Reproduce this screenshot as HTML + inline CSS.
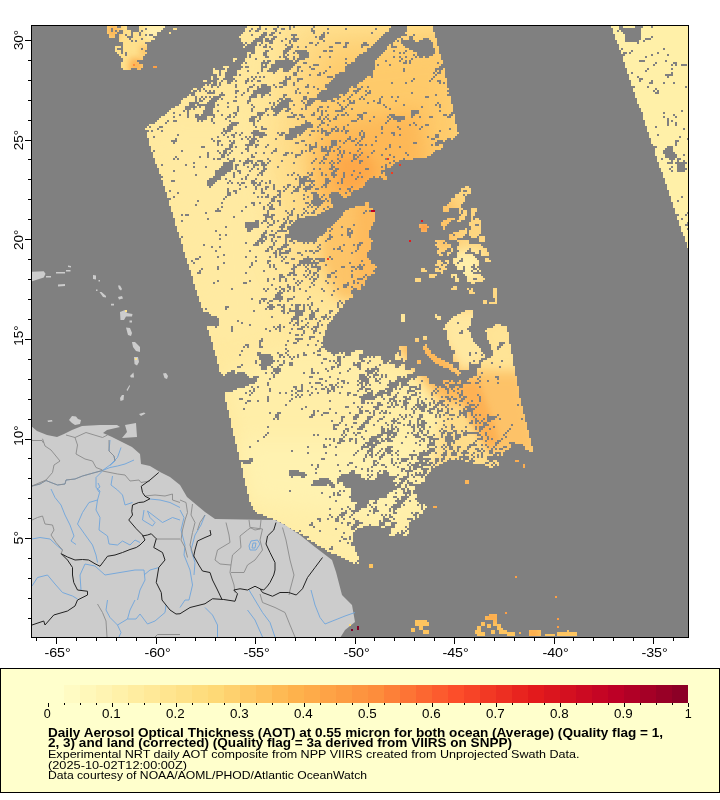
<!DOCTYPE html>
<html><head><meta charset="utf-8"><title>AOT map</title>
<style>html,body{margin:0;padding:0;background:#fff;}body{width:720px;height:800px;overflow:hidden;font-family:"Liberation Sans",sans-serif;}</style></head>
<body>
<svg width="720" height="800" viewBox="0 0 720 800" style="display:block">
<defs>
<clipPath id="cm"><rect x="32" y="26" width="656" height="611"/></clipPath>
<filter id="b6" x="-50%" y="-50%" width="200%" height="200%"><feGaussianBlur stdDeviation="6"/></filter>
<filter id="b10" x="-50%" y="-50%" width="200%" height="200%"><feGaussianBlur stdDeviation="10"/></filter>
<filter id="b16" x="-50%" y="-50%" width="200%" height="200%"><feGaussianBlur stdDeviation="16"/></filter>
<filter id="b3" x="-50%" y="-50%" width="200%" height="200%"><feGaussianBlur stdDeviation="3"/></filter>
</defs>
<rect width="720" height="800" fill="#fff"/>
<g clip-path="url(#cm)">
<rect x="31" y="25" width="658" height="613" fill="#ffe89c"/>
<polygon points="140,120 260,120 280,350 200,350" fill="#ffeaa2" filter="url(#b16)"/>
<polygon points="290,20 470,20 470,170 400,260 330,300 290,260 270,150" fill="#fedc88" filter="url(#b16)"/>
<polygon points="320,50 465,30 470,160 390,220 330,210 305,140" fill="#feca6a" filter="url(#b16)"/>
<polygon points="324,128 420,108 428,165 390,200 335,215 314,200 314,160" fill="#fdb856" filter="url(#b10)"/>
<polygon points="335,158 365,150 378,172 360,192 338,190" fill="#fda848" filter="url(#b6)"/>
<polygon points="322,205 376,205 376,300 338,300 322,260" fill="#fdc468" filter="url(#b6)"/>
<polygon points="355,200 385,200 385,300 358,300" fill="#fdba5c" filter="url(#b6)"/>
<polygon points="222,370 300,345 365,350 450,402 440,545 360,575 250,520" fill="#ffeea8" filter="url(#b10)"/>
<polygon points="240,440 420,440 400,520 250,500" fill="#fff2b0" filter="url(#b10)"/>
<polygon points="440,300 530,300 550,470 430,480 445,400" fill="#fedc8a" filter="url(#b6)"/>
<polygon points="392,338 470,345 472,405 440,402" fill="#fdb85a" filter="url(#b6)"/>
<polygon points="441,305 482,305 488,360 462,375 444,345" fill="#ffe8a0" filter="url(#b6)"/>
<polygon points="484,322 512,322 520,372 488,372" fill="#ffe496" filter="url(#b6)"/>
<polygon points="470,372 522,372 540,455 495,455 462,400" fill="#fdc268" filter="url(#b6)"/>
<polygon points="458,385 478,380 500,440 490,452 470,420" fill="#fdb152" filter="url(#b3)"/>
<polygon points="595,15 705,15 705,300" fill="#fff0a8" filter="url(#b3)"/>
<polygon points="100,15 180,15 180,80 100,80" fill="#fee08c" filter="url(#b3)"/>
<polygon points="145,22 170,22 165,36 145,40" fill="#fff0b0" filter="url(#b3)"/>
<polygon points="105,24 121,24 118,40 107,38" fill="#fdb858" filter="url(#b3)"/>
<polygon points="130,58 144,58 144,72 128,72" fill="#fdb557" filter="url(#b3)"/>
<polygon points="140,46 150,46 150,56 140,56" fill="#fdc468" filter="url(#b3)"/>
<polygon points="410,180 500,180 500,310 410,310" fill="#fed680" filter="url(#b6)"/>
<polygon points="436,200 456,200 456,250 436,250" fill="#fdc266" filter="url(#b6)"/>
<polygon points="418,222 430,222 430,233 418,233" fill="#fd9a42" filter="url(#b3)"/>
<polygon points="452,250 482,250 482,282 452,282" fill="#fff0aa" filter="url(#b6)"/>
<polygon points="405,610 590,610 590,640 405,640" fill="#fec45f" filter="url(#b3)"/>
<polygon points="528,628 538,628 538,640 528,640" fill="#fdab4c" filter="url(#b3)"/>
<polygon points="485,612 500,612 500,622 485,622" fill="#fdab4c" filter="url(#b3)"/>
<path transform="translate(31 26) scale(2)" d="M0 0h38v4h-38zM43 0h2v1h-2zM48 0h6v2h-6zM67 0h41v1h-41zM114 0h1v1h-1zM123 0h1v1h-1zM129 0h1v2h-1zM131 0h1v1h-1zM141 0h1v1h-1zM180 0h8v1h-8zM201 0h89v1h-89zM294 0h2v1h-2zM302 0h4v1h-4zM310 0h1v1h-1zM40 1h1v2h-1zM57 1h1v1h-1zM66 1h5v1h-5zM73 1h34v1h-34zM110 1h1v1h-1zM113 1h2v1h-2zM117 1h1v1h-1zM121 1h2v1h-2zM125 1h2v1h-2zM140 1h1v1h-1zM148 1h1v1h-1zM157 1h1v1h-1zM172 1h1v1h-1zM179 1h9v2h-9zM201 1h90v2h-90zM294 1h11v1h-11zM42 2h1v1h-1zM44 2h2v1h-2zM50 2h4v1h-4zM55 2h1v1h-1zM65 2h42v1h-42zM109 2h1v1h-1zM112 2h2v1h-2zM122 2h1v1h-1zM140 2h2v1h-2zM293 2h1v1h-1zM295 2h10v1h-10zM43 3h3v1h-3zM50 3h1v2h-1zM54 3h1v2h-1zM63 3h6v1h-6zM70 3h36v1h-36zM116 3h2v1h-2zM120 3h2v1h-2zM124 3h1v1h-1zM141 3h1v1h-1zM146 3h1v1h-1zM148 3h1v1h-1zM170 3h1v1h-1zM177 3h10v1h-10zM202 3h89v1h-89zM296 3h9v1h-9zM0 4h39v2h-39zM42 4h2v2h-2zM47 4h1v1h-1zM57 4h1v1h-1zM59 4h2v1h-2zM63 4h42v1h-42zM110 4h1v1h-1zM115 4h3v1h-3zM119 4h2v1h-2zM130 4h3v1h-3zM145 4h2v1h-2zM176 4h12v1h-12zM191 4h1v1h-1zM202 4h90v2h-90zM297 4h8v3h-8zM48 5h3v1h-3zM61 5h43v1h-43zM114 5h3v1h-3zM121 5h2v1h-2zM131 5h1v1h-1zM142 5h1v1h-1zM144 5h3v1h-3zM175 5h10v1h-10zM189 5h2v2h-2zM310 5h1v1h-1zM0 6h44v2h-44zM49 6h1v1h-1zM55 6h1v1h-1zM62 6h43v1h-43zM112 6h4v1h-4zM117 6h2v1h-2zM120 6h2v1h-2zM127 6h1v1h-1zM130 6h4v1h-4zM144 6h2v1h-2zM174 6h9v1h-9zM185 6h1v1h-1zM196 6h3v1h-3zM203 6h89v1h-89zM307 6h3v1h-3zM50 7h1v1h-1zM52 7h1v1h-1zM60 7h45v1h-45zM111 7h5v1h-5zM117 7h4v1h-4zM125 7h1v1h-1zM129 7h1v2h-1zM131 7h2v1h-2zM146 7h1v1h-1zM173 7h9v1h-9zM183 7h1v1h-1zM185 7h7v1h-7zM194 7h6v1h-6zM203 7h90v2h-90zM297 7h7v1h-7zM306 7h1v1h-1zM0 8h46v2h-46zM57 8h49v1h-49zM107 8h1v1h-1zM110 8h3v1h-3zM115 8h1v1h-1zM119 8h2v1h-2zM139 8h2v1h-2zM143 8h1v1h-1zM152 8h3v1h-3zM157 8h2v1h-2zM166 8h2v1h-2zM172 8h9v1h-9zM185 8h16v1h-16zM303 8h1v1h-1zM58 9h49v1h-49zM108 9h5v1h-5zM114 9h1v1h-1zM117 9h1v1h-1zM127 9h1v1h-1zM130 9h1v1h-1zM142 9h1v1h-1zM157 9h1v1h-1zM165 9h4v1h-4zM171 9h8v1h-8zM180 9h1v1h-1zM186 9h15v1h-15zM203 9h91v1h-91zM0 10h42v3h-42zM45 10h1v1h-1zM58 10h48v1h-48zM107 10h5v1h-5zM116 10h2v1h-2zM119 10h1v1h-1zM128 10h3v1h-3zM133 10h1v1h-1zM137 10h1v1h-1zM149 10h2v1h-2zM156 10h2v1h-2zM165 10h1v1h-1zM170 10h8v1h-8zM180 10h3v1h-3zM187 10h14v1h-14zM204 10h90v2h-90zM43 11h3v1h-3zM55 11h1v1h-1zM58 11h54v1h-54zM120 11h1v1h-1zM127 11h3v1h-3zM168 11h10v1h-10zM189 11h13v1h-13zM295 11h1v1h-1zM316 11h1v1h-1zM45 12h1v2h-1zM57 12h55v1h-55zM117 12h2v1h-2zM126 12h3v1h-3zM132 12h6v1h-6zM146 12h2v1h-2zM149 12h2v1h-2zM168 12h9v1h-9zM181 12h1v1h-1zM187 12h1v1h-1zM191 12h11v1h-11zM204 12h91v2h-91zM300 12h1v1h-1zM0 13h43v1h-43zM47 13h1v2h-1zM58 13h50v1h-50zM110 13h2v1h-2zM116 13h2v2h-2zM126 13h2v1h-2zM131 13h1v1h-1zM133 13h6v1h-6zM166 13h10v1h-10zM184 13h1v1h-1zM186 13h1v1h-1zM193 13h9v1h-9zM296 13h2v1h-2zM299 13h1v1h-1zM313 13h1v1h-1zM0 14h44v1h-44zM57 14h51v1h-51zM109 14h1v2h-1zM126 14h1v1h-1zM128 14h1v1h-1zM134 14h5v2h-5zM164 14h11v1h-11zM191 14h1v1h-1zM193 14h8v1h-8zM205 14h92v1h-92zM310 14h1v1h-1zM318 14h1v1h-1zM0 15h45v1h-45zM56 15h52v1h-52zM117 15h2v1h-2zM124 15h1v1h-1zM126 15h2v1h-2zM131 15h1v2h-1zM144 15h1v1h-1zM149 15h1v1h-1zM163 15h11v1h-11zM181 15h1v1h-1zM184 15h1v1h-1zM187 15h1v1h-1zM192 15h1v1h-1zM194 15h2v1h-2zM197 15h2v1h-2zM205 15h91v2h-91zM307 15h1v1h-1zM0 16h46v2h-46zM56 16h45v1h-45zM103 16h4v1h-4zM112 16h1v1h-1zM127 16h2v1h-2zM133 16h4v1h-4zM157 16h1v1h-1zM162 16h11v1h-11zM185 16h1v1h-1zM190 16h1v1h-1zM53 17h48v1h-48zM102 17h5v1h-5zM116 17h1v1h-1zM118 17h2v1h-2zM122 17h9v1h-9zM132 17h2v1h-2zM162 17h10v1h-10zM177 17h1v1h-1zM184 17h1v1h-1zM187 17h1v1h-1zM189 17h1v2h-1zM206 17h90v1h-90zM304 17h3v1h-3zM317 17h1v1h-1zM0 18h45v3h-45zM54 18h52v1h-52zM107 18h1v1h-1zM115 18h4v1h-4zM122 18h11v1h-11zM136 18h2v1h-2zM157 18h1v1h-1zM160 18h12v1h-12zM186 18h2v1h-2zM203 18h1v1h-1zM206 18h91v1h-91zM312 18h1v1h-1zM321 18h2v1h-2zM56 19h49v1h-49zM115 19h1v1h-1zM117 19h1v1h-1zM120 19h12v1h-12zM141 19h3v1h-3zM158 19h14v1h-14zM173 19h1v1h-1zM179 19h1v1h-1zM205 19h92v1h-92zM311 19h1v1h-1zM320 19h1v1h-1zM322 19h1v1h-1zM325 19h3v1h-3zM56 20h5v1h-5zM62 20h34v1h-34zM99 20h7v1h-7zM107 20h2v1h-2zM115 20h3v1h-3zM120 20h11v1h-11zM133 20h2v1h-2zM139 20h1v1h-1zM149 20h1v1h-1zM157 20h15v2h-15zM204 20h93v1h-93zM0 21h46v1h-46zM50 21h3v1h-3zM55 21h36v1h-36zM92 21h5v1h-5zM98 21h7v1h-7zM115 21h1v2h-1zM119 21h5v1h-5zM126 21h4v1h-4zM133 21h1v2h-1zM140 21h2v1h-2zM186 21h1v2h-1zM202 21h4v1h-4zM207 21h91v3h-91zM308 21h1v1h-1zM320 21h1v1h-1zM0 22h91v2h-91zM94 22h1v3h-1zM98 22h5v1h-5zM108 22h1v1h-1zM118 22h5v1h-5zM126 22h3v1h-3zM135 22h1v1h-1zM147 22h1v1h-1zM157 22h14v1h-14zM202 22h1v1h-1zM204 22h1v1h-1zM307 22h1v1h-1zM97 23h6v2h-6zM113 23h1v1h-1zM121 23h1v1h-1zM131 23h2v2h-2zM144 23h1v1h-1zM146 23h1v1h-1zM154 23h17v1h-17zM201 23h1v1h-1zM203 23h2v1h-2zM300 23h1v1h-1zM320 23h1v1h-1zM0 24h93v1h-93zM104 24h1v1h-1zM139 24h1v1h-1zM143 24h2v1h-2zM152 24h19v1h-19zM202 24h1v1h-1zM207 24h92v2h-92zM317 24h4v1h-4zM0 25h90v2h-90zM91 25h2v1h-2zM97 25h4v1h-4zM110 25h1v1h-1zM112 25h1v1h-1zM114 25h1v1h-1zM116 25h1v1h-1zM127 25h1v1h-1zM129 25h1v1h-1zM148 25h3v1h-3zM152 25h16v1h-16zM170 25h1v1h-1zM201 25h1v1h-1zM303 25h1v1h-1zM318 25h1v1h-1zM91 26h3v1h-3zM96 26h6v1h-6zM108 26h1v1h-1zM111 26h1v1h-1zM127 26h3v1h-3zM133 26h3v1h-3zM151 26h16v1h-16zM191 26h1v1h-1zM200 26h1v1h-1zM208 26h91v1h-91zM304 26h2v1h-2zM0 27h86v1h-86zM88 27h5v1h-5zM95 27h1v1h-1zM98 27h3v1h-3zM102 27h1v1h-1zM107 27h2v1h-2zM110 27h1v1h-1zM113 27h2v1h-2zM126 27h2v1h-2zM133 27h1v1h-1zM150 27h16v1h-16zM190 27h1v1h-1zM199 27h1v1h-1zM203 27h2v1h-2zM208 27h92v3h-92zM304 27h1v1h-1zM310 27h1v1h-1zM0 28h90v1h-90zM91 28h2v1h-2zM94 28h1v2h-1zM98 28h2v1h-2zM107 28h1v1h-1zM124 28h4v1h-4zM131 28h1v2h-1zM149 28h15v1h-15zM180 28h1v1h-1zM187 28h1v1h-1zM204 28h1v1h-1zM206 28h1v1h-1zM309 28h2v1h-2zM316 28h1v1h-1zM321 28h1v1h-1zM0 29h87v1h-87zM88 29h1v1h-1zM90 29h3v1h-3zM102 29h1v2h-1zM111 29h1v1h-1zM115 29h3v1h-3zM121 29h1v1h-1zM126 29h2v1h-2zM138 29h1v1h-1zM147 29h16v1h-16zM0 30h86v1h-86zM90 30h1v1h-1zM93 30h1v1h-1zM109 30h2v1h-2zM113 30h1v1h-1zM115 30h5v1h-5zM122 30h1v1h-1zM124 30h2v1h-2zM137 30h2v1h-2zM141 30h1v1h-1zM147 30h13v1h-13zM161 30h2v1h-2zM165 30h1v1h-1zM168 30h1v1h-1zM208 30h94v1h-94zM308 30h1v1h-1zM327 30h1v1h-1zM0 31h81v1h-81zM83 31h2v1h-2zM86 31h1v1h-1zM108 31h1v2h-1zM113 31h7v1h-7zM133 31h1v1h-1zM143 31h1v1h-1zM148 31h11v1h-11zM163 31h2v1h-2zM209 31h92v1h-92zM312 31h1v1h-1zM0 32h80v1h-80zM81 32h2v1h-2zM84 32h1v1h-1zM87 32h1v1h-1zM89 32h1v1h-1zM91 32h1v1h-1zM102 32h2v1h-2zM111 32h9v1h-9zM132 32h1v2h-1zM145 32h14v1h-14zM161 32h3v1h-3zM167 32h1v1h-1zM169 32h1v1h-1zM208 32h93v1h-93zM311 32h1v1h-1zM313 32h1v1h-1zM0 33h82v1h-82zM88 33h4v1h-4zM95 33h1v1h-1zM102 33h1v1h-1zM106 33h1v1h-1zM111 33h8v1h-8zM134 33h1v1h-1zM138 33h1v1h-1zM144 33h14v1h-14zM162 33h1v1h-1zM168 33h2v1h-2zM190 33h1v1h-1zM209 33h93v1h-93zM312 33h2v1h-2zM0 34h79v1h-79zM80 34h2v1h-2zM94 34h3v1h-3zM105 34h1v1h-1zM110 34h3v1h-3zM115 34h2v1h-2zM119 34h1v1h-1zM126 34h2v1h-2zM143 34h11v1h-11zM156 34h1v1h-1zM160 34h1v1h-1zM167 34h1v1h-1zM202 34h1v1h-1zM208 34h94v1h-94zM0 35h78v1h-78zM82 35h1v3h-1zM85 35h1v1h-1zM87 35h1v1h-1zM89 35h1v1h-1zM91 35h4v1h-4zM102 35h1v1h-1zM109 35h4v1h-4zM115 35h1v1h-1zM126 35h1v1h-1zM136 35h2v2h-2zM143 35h12v1h-12zM159 35h1v1h-1zM165 35h1v1h-1zM175 35h1v1h-1zM180 35h1v1h-1zM183 35h1v1h-1zM197 35h2v1h-2zM210 35h92v1h-92zM0 36h76v1h-76zM84 36h1v1h-1zM86 36h1v1h-1zM90 36h4v1h-4zM95 36h1v1h-1zM109 36h1v1h-1zM124 36h2v1h-2zM127 36h3v1h-3zM139 36h12v1h-12zM153 36h1v1h-1zM158 36h1v1h-1zM164 36h1v1h-1zM166 36h1v1h-1zM174 36h1v2h-1zM210 36h93v3h-93zM0 37h75v2h-75zM84 37h2v1h-2zM89 37h4v1h-4zM101 37h2v1h-2zM108 37h2v1h-2zM123 37h1v1h-1zM125 37h6v1h-6zM135 37h1v1h-1zM138 37h4v1h-4zM145 37h3v1h-3zM150 37h2v1h-2zM156 37h1v1h-1zM159 37h1v1h-1zM161 37h1v1h-1zM171 37h1v1h-1zM182 37h1v1h-1zM79 38h5v1h-5zM88 38h4v1h-4zM98 38h1v1h-1zM108 38h1v1h-1zM119 38h1v1h-1zM121 38h1v2h-1zM124 38h5v1h-5zM136 38h1v1h-1zM138 38h3v1h-3zM153 38h1v1h-1zM159 38h3v1h-3zM168 38h1v1h-1zM173 38h2v1h-2zM203 38h1v1h-1zM0 39h74v1h-74zM79 39h3v1h-3zM83 39h9v1h-9zM93 39h1v1h-1zM110 39h1v1h-1zM123 39h6v1h-6zM131 39h1v1h-1zM137 39h3v1h-3zM154 39h1v1h-1zM158 39h1v1h-1zM176 39h1v1h-1zM186 39h1v1h-1zM202 39h1v1h-1zM204 39h1v2h-1zM211 39h93v2h-93zM0 40h72v1h-72zM77 40h6v1h-6zM84 40h1v1h-1zM87 40h5v1h-5zM98 40h1v1h-1zM103 40h1v3h-1zM111 40h1v1h-1zM120 40h1v1h-1zM122 40h7v1h-7zM137 40h1v2h-1zM144 40h2v1h-2zM148 40h1v1h-1zM155 40h1v1h-1zM157 40h1v1h-1zM177 40h1v1h-1zM195 40h1v1h-1zM0 41h70v1h-70zM77 41h3v1h-3zM81 41h1v1h-1zM87 41h4v1h-4zM110 41h1v2h-1zM117 41h2v1h-2zM120 41h6v1h-6zM128 41h2v1h-2zM135 41h1v1h-1zM143 41h1v2h-1zM155 41h2v1h-2zM160 41h1v1h-1zM179 41h1v1h-1zM211 41h94v2h-94zM0 42h69v1h-69zM76 42h1v1h-1zM78 42h1v4h-1zM86 42h5v2h-5zM93 42h1v1h-1zM117 42h1v1h-1zM121 42h4v1h-4zM127 42h2v1h-2zM145 42h1v3h-1zM147 42h1v1h-1zM152 42h4v1h-4zM190 42h4v2h-4zM204 42h1v1h-1zM325 42h1v1h-1zM0 43h68v1h-68zM71 43h1v1h-1zM101 43h2v1h-2zM113 43h4v1h-4zM122 43h2v1h-2zM130 43h1v1h-1zM141 43h1v1h-1zM157 43h1v1h-1zM166 43h2v1h-2zM210 43h96v1h-96zM316 43h1v1h-1zM0 44h67v1h-67zM74 44h1v1h-1zM82 44h2v1h-2zM85 44h7v1h-7zM95 44h1v1h-1zM99 44h1v1h-1zM102 44h1v1h-1zM113 44h3v1h-3zM118 44h1v1h-1zM121 44h2v1h-2zM131 44h2v1h-2zM134 44h2v1h-2zM140 44h2v1h-2zM148 44h1v1h-1zM153 44h1v1h-1zM155 44h2v1h-2zM158 44h1v1h-1zM163 44h3v1h-3zM179 44h3v1h-3zM190 44h2v1h-2zM206 44h2v1h-2zM209 44h2v1h-2zM212 44h94v3h-94zM321 44h1v1h-1zM0 45h65v1h-65zM71 45h1v1h-1zM82 45h6v1h-6zM91 45h1v1h-1zM98 45h2v1h-2zM101 45h1v1h-1zM110 45h3v1h-3zM114 45h1v2h-1zM128 45h4v1h-4zM135 45h2v1h-2zM144 45h1v1h-1zM147 45h1v1h-1zM152 45h1v1h-1zM164 45h2v1h-2zM171 45h1v1h-1zM178 45h1v1h-1zM180 45h7v1h-7zM190 45h1v1h-1zM194 45h1v1h-1zM199 45h2v1h-2zM208 45h2v1h-2zM316 45h1v1h-1zM322 45h1v1h-1zM0 46h64v1h-64zM83 46h5v1h-5zM90 46h1v2h-1zM97 46h1v1h-1zM109 46h3v2h-3zM133 46h1v1h-1zM143 46h2v1h-2zM146 46h1v1h-1zM148 46h1v1h-1zM151 46h2v1h-2zM163 46h1v1h-1zM165 46h1v1h-1zM179 46h1v1h-1zM181 46h6v1h-6zM318 46h1v4h-1zM0 47h63v1h-63zM68 47h1v1h-1zM71 47h2v1h-2zM83 47h1v1h-1zM85 47h1v1h-1zM99 47h1v1h-1zM113 47h1v1h-1zM137 47h1v1h-1zM145 47h1v1h-1zM149 47h1v1h-1zM160 47h3v1h-3zM169 47h1v1h-1zM178 47h1v1h-1zM183 47h2v1h-2zM212 47h95v2h-95zM320 47h1v1h-1zM0 48h62v1h-62zM67 48h1v1h-1zM91 48h1v1h-1zM100 48h4v1h-4zM111 48h1v2h-1zM137 48h3v1h-3zM145 48h2v1h-2zM177 48h1v1h-1zM191 48h1v1h-1zM322 48h1v2h-1zM0 49h59v1h-59zM99 49h4v1h-4zM135 49h6v1h-6zM144 49h1v1h-1zM148 49h1v1h-1zM158 49h1v1h-1zM189 49h1v1h-1zM192 49h1v1h-1zM197 49h2v1h-2zM213 49h94v1h-94zM0 50h58v1h-58zM59 50h1v1h-1zM64 50h2v1h-2zM98 50h3v2h-3zM112 50h1v1h-1zM115 50h1v1h-1zM132 50h9v1h-9zM143 50h1v1h-1zM152 50h1v1h-1zM156 50h1v2h-1zM175 50h1v2h-1zM183 50h1v1h-1zM195 50h1v1h-1zM213 50h95v3h-95zM312 50h1v1h-1zM0 51h57v1h-57zM63 51h1v1h-1zM96 51h1v1h-1zM115 51h3v1h-3zM129 51h9v1h-9zM145 51h1v1h-1zM150 51h2v1h-2zM153 51h1v1h-1zM184 51h1v1h-1zM194 51h1v1h-1zM209 51h1v1h-1zM326 51h1v1h-1zM0 52h59v1h-59zM60 52h1v1h-1zM65 52h1v1h-1zM96 52h4v1h-4zM111 52h3v1h-3zM129 52h8v1h-8zM140 52h2v1h-2zM143 52h1v1h-1zM145 52h3v1h-3zM150 52h1v1h-1zM152 52h2v1h-2zM155 52h1v1h-1zM157 52h2v1h-2zM165 52h1v1h-1zM204 52h1v1h-1zM0 53h58v3h-58zM95 53h1v1h-1zM97 53h1v1h-1zM102 53h1v1h-1zM105 53h1v1h-1zM110 53h7v1h-7zM123 53h1v1h-1zM125 53h2v1h-2zM129 53h7v1h-7zM145 53h1v1h-1zM147 53h3v1h-3zM157 53h1v1h-1zM164 53h1v2h-1zM166 53h1v2h-1zM175 53h1v1h-1zM180 53h2v1h-2zM214 53h95v1h-95zM73 54h1v1h-1zM96 54h1v1h-1zM100 54h2v1h-2zM104 54h1v1h-1zM111 54h7v1h-7zM124 54h2v1h-2zM127 54h6v2h-6zM134 54h1v1h-1zM139 54h1v1h-1zM147 54h2v1h-2zM181 54h1v1h-1zM184 54h1v1h-1zM202 54h2v2h-2zM213 54h96v1h-96zM313 54h1v1h-1zM61 55h1v1h-1zM93 55h1v1h-1zM98 55h1v1h-1zM101 55h1v1h-1zM107 55h1v1h-1zM109 55h1v1h-1zM111 55h1v1h-1zM114 55h2v1h-2zM159 55h1v1h-1zM165 55h2v1h-2zM172 55h1v1h-1zM198 55h1v1h-1zM212 55h97v1h-97zM324 55h1v1h-1zM0 56h59v4h-59zM72 56h1v1h-1zM90 56h1v1h-1zM105 56h1v1h-1zM108 56h1v1h-1zM110 56h3v1h-3zM122 56h1v1h-1zM127 56h4v1h-4zM145 56h1v1h-1zM158 56h2v1h-2zM162 56h1v1h-1zM165 56h1v1h-1zM200 56h2v1h-2zM208 56h2v1h-2zM211 56h99v1h-99zM328 56h1v1h-1zM70 57h3v1h-3zM91 57h1v1h-1zM93 57h2v1h-2zM99 57h1v1h-1zM101 57h1v1h-1zM109 57h3v2h-3zM113 57h1v1h-1zM135 57h2v1h-2zM150 57h3v3h-3zM154 57h1v1h-1zM157 57h1v1h-1zM160 57h2v1h-2zM164 57h1v1h-1zM172 57h1v1h-1zM203 57h3v1h-3zM207 57h103v1h-103zM322 57h2v1h-2zM71 58h1v1h-1zM93 58h1v2h-1zM100 58h2v1h-2zM132 58h2v1h-2zM142 58h1v2h-1zM156 58h1v1h-1zM163 58h1v1h-1zM191 58h2v1h-2zM202 58h108v1h-108zM322 58h1v2h-1zM95 59h1v1h-1zM99 59h2v2h-2zM107 59h4v1h-4zM112 59h2v1h-2zM118 59h1v1h-1zM137 59h1v1h-1zM139 59h1v1h-1zM162 59h1v1h-1zM164 59h2v1h-2zM167 59h1v1h-1zM170 59h1v1h-1zM179 59h1v2h-1zM200 59h1v1h-1zM202 59h2v1h-2zM206 59h105v1h-105zM0 60h60v3h-60zM85 60h2v1h-2zM102 60h1v1h-1zM108 60h1v1h-1zM112 60h1v1h-1zM117 60h1v1h-1zM139 60h4v1h-4zM145 60h1v1h-1zM147 60h1v1h-1zM149 60h2v1h-2zM154 60h1v1h-1zM184 60h1v1h-1zM206 60h107v1h-107zM318 60h3v1h-3zM97 61h3v1h-3zM107 61h2v1h-2zM122 61h1v1h-1zM139 61h2v1h-2zM145 61h3v1h-3zM149 61h1v1h-1zM153 61h1v1h-1zM164 61h1v1h-1zM177 61h1v1h-1zM205 61h107v1h-107zM317 61h4v1h-4zM61 62h1v1h-1zM75 62h1v1h-1zM93 62h1v1h-1zM96 62h2v2h-2zM100 62h1v1h-1zM108 62h1v1h-1zM121 62h2v1h-2zM135 62h1v2h-1zM137 62h1v1h-1zM139 62h1v1h-1zM145 62h5v1h-5zM151 62h1v1h-1zM154 62h1v2h-1zM156 62h1v2h-1zM163 62h1v1h-1zM171 62h1v1h-1zM202 62h110v1h-110zM316 62h5v1h-5zM0 63h61v3h-61zM88 63h1v3h-1zM94 63h1v1h-1zM99 63h1v1h-1zM105 63h1v1h-1zM112 63h1v1h-1zM116 63h1v1h-1zM120 63h1v1h-1zM127 63h2v1h-2zM130 63h1v1h-1zM141 63h1v1h-1zM148 63h1v1h-1zM159 63h1v1h-1zM165 63h1v1h-1zM170 63h1v1h-1zM187 63h1v1h-1zM201 63h111v1h-111zM316 63h6v1h-6zM95 64h2v2h-2zM98 64h1v1h-1zM110 64h1v1h-1zM126 64h2v1h-2zM132 64h3v1h-3zM147 64h2v1h-2zM153 64h1v1h-1zM155 64h1v2h-1zM161 64h2v1h-2zM164 64h1v1h-1zM175 64h1v1h-1zM179 64h1v1h-1zM188 64h1v1h-1zM200 64h112v1h-112zM317 64h6v2h-6zM326 64h1v1h-1zM72 65h1v1h-1zM84 65h1v1h-1zM110 65h2v1h-2zM132 65h1v1h-1zM146 65h1v1h-1zM161 65h1v1h-1zM163 65h1v1h-1zM168 65h1v1h-1zM181 65h1v1h-1zM198 65h115v1h-115zM0 66h62v3h-62zM71 66h1v1h-1zM73 66h1v1h-1zM91 66h1v1h-1zM93 66h2v1h-2zM98 66h1v1h-1zM101 66h1v1h-1zM108 66h1v1h-1zM118 66h1v1h-1zM142 66h1v1h-1zM146 66h2v1h-2zM153 66h1v1h-1zM161 66h2v1h-2zM177 66h2v1h-2zM186 66h1v1h-1zM191 66h122v1h-122zM315 66h1v1h-1zM319 66h3v1h-3zM323 66h2v1h-2zM99 67h3v1h-3zM104 67h1v1h-1zM107 67h4v1h-4zM113 67h3v1h-3zM119 67h1v1h-1zM125 67h1v1h-1zM141 67h1v1h-1zM145 67h1v1h-1zM150 67h1v1h-1zM154 67h1v1h-1zM160 67h1v1h-1zM164 67h2v1h-2zM181 67h1v1h-1zM184 67h129v1h-129zM320 67h1v1h-1zM323 67h1v1h-1zM326 67h1v1h-1zM81 68h1v1h-1zM96 68h5v2h-5zM106 68h3v1h-3zM110 68h1v1h-1zM112 68h1v1h-1zM115 68h2v1h-2zM118 68h1v1h-1zM131 68h1v1h-1zM140 68h1v1h-1zM144 68h1v1h-1zM146 68h1v1h-1zM149 68h1v1h-1zM151 68h1v1h-1zM153 68h1v1h-1zM164 68h1v1h-1zM179 68h1v1h-1zM182 68h132v1h-132zM318 68h3v1h-3zM322 68h6v1h-6zM0 69h63v2h-63zM65 69h1v1h-1zM77 69h1v1h-1zM102 69h2v1h-2zM106 69h1v1h-1zM111 69h3v1h-3zM115 69h3v1h-3zM150 69h1v1h-1zM177 69h1v2h-1zM181 69h133v1h-133zM323 69h4v2h-4zM81 70h1v1h-1zM87 70h1v1h-1zM95 70h6v1h-6zM102 70h1v2h-1zM108 70h1v1h-1zM111 70h1v1h-1zM116 70h1v1h-1zM123 70h1v1h-1zM150 70h2v1h-2zM175 70h1v1h-1zM180 70h134v1h-134zM320 70h1v1h-1zM0 71h64v3h-64zM94 71h7v1h-7zM110 71h1v1h-1zM113 71h1v1h-1zM116 71h2v1h-2zM141 71h1v1h-1zM144 71h1v1h-1zM149 71h2v1h-2zM152 71h2v1h-2zM167 71h2v1h-2zM177 71h138v1h-138zM319 71h1v1h-1zM323 71h5v1h-5zM71 72h1v1h-1zM92 72h8v1h-8zM103 72h2v1h-2zM109 72h1v1h-1zM115 72h2v1h-2zM151 72h2v1h-2zM161 72h1v1h-1zM175 72h140v1h-140zM320 72h1v1h-1zM323 72h4v1h-4zM92 73h6v1h-6zM101 73h1v3h-1zM104 73h1v1h-1zM114 73h2v1h-2zM131 73h1v1h-1zM138 73h1v1h-1zM140 73h1v1h-1zM145 73h1v2h-1zM150 73h2v1h-2zM156 73h1v3h-1zM164 73h1v1h-1zM175 73h1v1h-1zM177 73h139v2h-139zM0 74h65v1h-65zM82 74h1v1h-1zM92 74h5v1h-5zM108 74h1v1h-1zM113 74h1v1h-1zM115 74h1v1h-1zM128 74h1v1h-1zM130 74h1v1h-1zM133 74h1v1h-1zM139 74h2v1h-2zM147 74h1v1h-1zM150 74h3v1h-3zM160 74h1v1h-1zM0 75h66v1h-66zM91 75h4v1h-4zM107 75h1v2h-1zM134 75h1v1h-1zM136 75h3v1h-3zM151 75h1v1h-1zM163 75h1v1h-1zM165 75h1v1h-1zM171 75h1v1h-1zM174 75h1v1h-1zM178 75h138v1h-138zM0 76h65v1h-65zM89 76h6v1h-6zM97 76h1v1h-1zM105 76h1v1h-1zM112 76h1v1h-1zM132 76h1v1h-1zM134 76h4v1h-4zM139 76h1v1h-1zM147 76h2v1h-2zM155 76h1v3h-1zM162 76h1v1h-1zM169 76h7v1h-7zM178 76h139v1h-139zM0 77h66v3h-66zM70 77h2v1h-2zM88 77h5v1h-5zM99 77h1v1h-1zM110 77h2v1h-2zM115 77h1v1h-1zM119 77h1v2h-1zM134 77h8v1h-8zM147 77h3v1h-3zM168 77h149v1h-149zM88 78h4v1h-4zM98 78h1v1h-1zM100 78h1v1h-1zM103 78h1v1h-1zM105 78h2v1h-2zM110 78h3v1h-3zM114 78h1v1h-1zM117 78h1v1h-1zM134 78h3v1h-3zM140 78h1v1h-1zM147 78h2v1h-2zM153 78h1v1h-1zM167 78h150v1h-150zM88 79h3v1h-3zM104 79h1v1h-1zM111 79h1v1h-1zM113 79h2v1h-2zM121 79h1v3h-1zM128 79h2v1h-2zM134 79h1v1h-1zM136 79h1v1h-1zM139 79h1v1h-1zM141 79h1v1h-1zM146 79h2v1h-2zM167 79h151v1h-151zM0 80h67v3h-67zM89 80h1v1h-1zM107 80h1v1h-1zM112 80h1v2h-1zM117 80h2v1h-2zM126 80h1v1h-1zM128 80h1v1h-1zM131 80h1v1h-1zM133 80h2v1h-2zM137 80h4v1h-4zM145 80h1v1h-1zM147 80h1v1h-1zM160 80h1v1h-1zM166 80h51v1h-51zM219 80h99v1h-99zM98 81h1v2h-1zM104 81h1v1h-1zM115 81h1v2h-1zM117 81h1v1h-1zM127 81h1v1h-1zM132 81h2v1h-2zM136 81h4v1h-4zM142 81h2v1h-2zM154 81h1v1h-1zM158 81h2v1h-2zM164 81h51v1h-51zM220 81h98v1h-98zM69 82h1v1h-1zM101 82h2v1h-2zM123 82h2v1h-2zM126 82h1v1h-1zM131 82h3v1h-3zM137 82h1v1h-1zM159 82h1v1h-1zM161 82h54v1h-54zM216 82h2v1h-2zM220 82h99v2h-99zM0 83h68v3h-68zM73 83h1v1h-1zM98 83h2v2h-2zM102 83h1v1h-1zM111 83h1v1h-1zM115 83h2v1h-2zM124 83h1v1h-1zM130 83h1v1h-1zM140 83h3v1h-3zM150 83h4v1h-4zM157 83h1v1h-1zM160 83h54v1h-54zM118 84h1v1h-1zM123 84h2v1h-2zM136 84h1v1h-1zM141 84h3v2h-3zM146 84h1v1h-1zM149 84h6v1h-6zM160 84h52v1h-52zM216 84h1v1h-1zM218 84h101v1h-101zM71 85h1v1h-1zM97 85h1v1h-1zM113 85h1v1h-1zM115 85h1v1h-1zM117 85h2v1h-2zM121 85h2v1h-2zM124 85h1v1h-1zM138 85h1v1h-1zM145 85h1v1h-1zM149 85h7v1h-7zM158 85h54v1h-54zM217 85h103v3h-103zM325 85h1v1h-1zM0 86h70v1h-70zM96 86h1v1h-1zM120 86h2v2h-2zM136 86h1v1h-1zM141 86h4v1h-4zM147 86h1v1h-1zM150 86h60v2h-60zM0 87h69v3h-69zM83 87h1v1h-1zM123 87h2v1h-2zM131 87h1v1h-1zM140 87h7v1h-7zM148 87h1v1h-1zM323 87h1v1h-1zM95 88h1v1h-1zM110 88h2v1h-2zM114 88h1v1h-1zM119 88h1v1h-1zM124 88h1v2h-1zM137 88h2v1h-2zM140 88h6v1h-6zM150 88h17v1h-17zM169 88h40v1h-40zM216 88h105v1h-105zM82 89h1v1h-1zM111 89h1v1h-1zM118 89h1v1h-1zM120 89h1v1h-1zM139 89h1v1h-1zM141 89h4v1h-4zM151 89h16v1h-16zM169 89h39v1h-39zM215 89h106v2h-106zM0 90h70v3h-70zM95 90h1v1h-1zM107 90h1v1h-1zM116 90h1v2h-1zM119 90h2v1h-2zM138 90h1v1h-1zM140 90h1v1h-1zM143 90h1v1h-1zM148 90h1v1h-1zM151 90h11v1h-11zM169 90h37v1h-37zM93 91h1v1h-1zM119 91h3v1h-3zM131 91h1v1h-1zM136 91h1v1h-1zM142 91h1v1h-1zM146 91h1v1h-1zM149 91h10v1h-10zM171 91h35v2h-35zM209 91h5v2h-5zM216 91h4v1h-4zM223 91h99v2h-99zM92 92h3v1h-3zM105 92h1v1h-1zM118 92h1v2h-1zM127 92h1v1h-1zM130 92h1v2h-1zM137 92h1v1h-1zM141 92h1v1h-1zM147 92h10v1h-10zM167 92h1v1h-1zM169 92h1v1h-1zM215 92h1v2h-1zM218 92h2v3h-2zM0 93h71v3h-71zM87 93h1v1h-1zM128 93h1v1h-1zM136 93h1v1h-1zM138 93h1v1h-1zM140 93h2v1h-2zM145 93h11v1h-11zM166 93h1v1h-1zM172 93h42v1h-42zM222 93h100v1h-100zM328 93h1v1h-1zM75 94h1v1h-1zM77 94h2v1h-2zM116 94h3v1h-3zM120 94h2v1h-2zM129 94h2v1h-2zM133 94h1v2h-1zM135 94h1v1h-1zM143 94h13v1h-13zM172 94h43v1h-43zM222 94h102v1h-102zM327 94h1v1h-1zM101 95h1v1h-1zM117 95h4v1h-4zM128 95h1v2h-1zM137 95h18v1h-18zM172 95h42v1h-42zM217 95h3v2h-3zM221 95h102v1h-102zM0 96h72v4h-72zM88 96h1v1h-1zM117 96h1v1h-1zM120 96h1v1h-1zM126 96h1v1h-1zM133 96h21v1h-21zM172 96h36v1h-36zM212 96h2v1h-2zM221 96h1v1h-1zM224 96h99v1h-99zM325 96h1v1h-1zM75 97h1v1h-1zM112 97h2v1h-2zM116 97h2v1h-2zM121 97h1v2h-1zM123 97h1v1h-1zM127 97h1v1h-1zM129 97h2v1h-2zM132 97h21v1h-21zM172 97h34v1h-34zM210 97h3v1h-3zM215 97h5v1h-5zM225 97h99v3h-99zM107 98h7v3h-7zM115 98h1v1h-1zM118 98h1v1h-1zM126 98h2v1h-2zM129 98h1v1h-1zM131 98h21v1h-21zM171 98h34v1h-34zM209 98h10v1h-10zM328 98h1v1h-1zM119 99h2v1h-2zM125 99h2v1h-2zM130 99h21v1h-21zM161 99h1v1h-1zM171 99h23v1h-23zM198 99h7v1h-7zM208 99h11v1h-11zM222 99h2v1h-2zM327 99h2v1h-2zM0 100h73v3h-73zM97 100h1v1h-1zM118 100h1v1h-1zM124 100h3v1h-3zM128 100h22v1h-22zM155 100h1v1h-1zM170 100h24v1h-24zM199 100h7v1h-7zM207 100h13v1h-13zM225 100h100v3h-100zM108 101h3v1h-3zM125 101h1v1h-1zM128 101h20v1h-20zM150 101h1v1h-1zM158 101h2v1h-2zM170 101h25v1h-25zM198 101h8v1h-8zM207 101h10v1h-10zM218 101h2v1h-2zM328 101h1v1h-1zM92 102h1v1h-1zM108 102h2v1h-2zM117 102h1v1h-1zM120 102h1v1h-1zM123 102h5v1h-5zM129 102h19v1h-19zM149 102h1v1h-1zM158 102h1v1h-1zM160 102h1v1h-1zM169 102h26v1h-26zM198 102h16v1h-16zM218 102h1v2h-1zM0 103h74v3h-74zM116 103h2v1h-2zM122 103h1v1h-1zM129 103h18v1h-18zM158 103h3v1h-3zM169 103h42v1h-42zM225 103h101v1h-101zM94 104h1v1h-1zM97 104h1v1h-1zM115 104h2v1h-2zM119 104h3v1h-3zM127 104h19v1h-19zM149 104h1v1h-1zM155 104h1v1h-1zM158 104h2v1h-2zM169 104h40v2h-40zM211 104h1v1h-1zM217 104h2v1h-2zM224 104h102v1h-102zM75 105h1v1h-1zM115 105h3v1h-3zM121 105h1v1h-1zM123 105h2v1h-2zM127 105h17v1h-17zM149 105h2v1h-2zM159 105h1v1h-1zM216 105h4v1h-4zM223 105h1v1h-1zM227 105h100v3h-100zM0 106h75v3h-75zM94 106h1v1h-1zM114 106h2v1h-2zM117 106h1v1h-1zM120 106h1v2h-1zM127 106h1v3h-1zM130 106h13v1h-13zM148 106h2v1h-2zM170 106h39v1h-39zM213 106h11v1h-11zM113 107h4v1h-4zM122 107h1v1h-1zM129 107h2v1h-2zM133 107h10v1h-10zM147 107h1v1h-1zM171 107h31v1h-31zM207 107h6v1h-6zM219 107h5v1h-5zM107 108h1v1h-1zM112 108h2v1h-2zM115 108h1v1h-1zM121 108h1v2h-1zM131 108h1v1h-1zM136 108h1v1h-1zM138 108h1v1h-1zM141 108h1v1h-1zM164 108h2v1h-2zM170 108h33v1h-33zM206 108h1v1h-1zM208 108h6v1h-6zM219 108h109v1h-109zM0 109h76v4h-76zM86 109h1v1h-1zM111 109h3v1h-3zM126 109h3v1h-3zM144 109h1v1h-1zM156 109h1v1h-1zM161 109h1v1h-1zM163 109h2v1h-2zM170 109h32v1h-32zM210 109h4v1h-4zM225 109h103v1h-103zM90 110h1v1h-1zM94 110h1v1h-1zM119 110h2v1h-2zM125 110h3v1h-3zM143 110h1v1h-1zM154 110h1v1h-1zM163 110h1v2h-1zM170 110h33v1h-33zM210 110h3v1h-3zM226 110h102v1h-102zM118 111h1v1h-1zM120 111h1v1h-1zM123 111h3v1h-3zM129 111h1v1h-1zM144 111h1v1h-1zM151 111h1v1h-1zM153 111h2v1h-2zM170 111h34v1h-34zM208 111h2v1h-2zM211 111h2v1h-2zM219 111h1v1h-1zM228 111h101v2h-101zM92 112h1v1h-1zM109 112h1v1h-1zM117 112h2v1h-2zM122 112h1v1h-1zM124 112h1v1h-1zM127 112h3v1h-3zM137 112h1v1h-1zM139 112h2v1h-2zM142 112h2v1h-2zM155 112h1v1h-1zM162 112h1v1h-1zM169 112h34v1h-34zM207 112h3v1h-3zM211 112h3v1h-3zM218 112h2v1h-2zM224 112h1v2h-1zM0 113h77v3h-77zM121 113h2v1h-2zM124 113h5v1h-5zM133 113h2v1h-2zM141 113h1v1h-1zM160 113h1v1h-1zM168 113h35v1h-35zM205 113h3v1h-3zM210 113h3v1h-3zM217 113h5v1h-5zM229 113h100v2h-100zM96 114h1v1h-1zM122 114h1v2h-1zM124 114h1v1h-1zM135 114h1v1h-1zM168 114h36v1h-36zM206 114h2v1h-2zM209 114h4v1h-4zM221 114h4v1h-4zM84 115h1v1h-1zM93 115h1v1h-1zM107 115h1v1h-1zM112 115h1v1h-1zM119 115h1v1h-1zM125 115h1v1h-1zM127 115h1v1h-1zM138 115h1v1h-1zM149 115h1v1h-1zM168 115h45v1h-45zM222 115h107v1h-107zM0 116h78v3h-78zM82 116h2v1h-2zM126 116h1v1h-1zM130 116h2v1h-2zM136 116h5v1h-5zM142 116h5v1h-5zM148 116h1v1h-1zM150 116h1v1h-1zM169 116h42v1h-42zM215 116h1v1h-1zM223 116h4v1h-4zM229 116h100v1h-100zM80 117h1v1h-1zM112 117h1v1h-1zM118 117h2v1h-2zM125 117h1v1h-1zM134 117h6v1h-6zM141 117h1v1h-1zM144 117h3v1h-3zM165 117h1v1h-1zM170 117h33v2h-33zM205 117h2v1h-2zM209 117h2v2h-2zM214 117h2v1h-2zM224 117h3v1h-3zM230 117h99v1h-99zM81 118h1v1h-1zM96 118h1v1h-1zM110 118h1v2h-1zM118 118h1v1h-1zM127 118h2v1h-2zM134 118h10v1h-10zM159 118h1v1h-1zM206 118h2v1h-2zM213 118h1v1h-1zM224 118h105v2h-105zM0 119h79v3h-79zM119 119h1v2h-1zM121 119h1v2h-1zM131 119h1v1h-1zM133 119h2v1h-2zM136 119h1v1h-1zM138 119h1v1h-1zM140 119h1v1h-1zM142 119h1v1h-1zM147 119h1v1h-1zM164 119h1v1h-1zM166 119h1v1h-1zM172 119h30v1h-30zM205 119h1v1h-1zM208 119h4v1h-4zM221 119h1v1h-1zM93 120h1v2h-1zM109 120h1v1h-1zM131 120h2v1h-2zM137 120h1v1h-1zM140 120h5v1h-5zM155 120h2v1h-2zM160 120h2v1h-2zM163 120h3v1h-3zM173 120h31v1h-31zM207 120h6v1h-6zM216 120h1v2h-1zM220 120h2v1h-2zM223 120h106v1h-106zM85 121h1v1h-1zM122 121h1v1h-1zM130 121h2v1h-2zM138 121h1v1h-1zM143 121h2v1h-2zM162 121h1v1h-1zM164 121h2v1h-2zM172 121h23v1h-23zM197 121h5v1h-5zM204 121h1v1h-1zM208 121h5v1h-5zM221 121h2v1h-2zM224 121h105v1h-105zM0 122h80v3h-80zM84 122h1v1h-1zM116 122h1v1h-1zM131 122h1v1h-1zM137 122h1v1h-1zM139 122h1v2h-1zM143 122h1v1h-1zM152 122h1v1h-1zM160 122h1v1h-1zM171 122h24v1h-24zM198 122h4v1h-4zM206 122h11v1h-11zM220 122h1v1h-1zM223 122h1v1h-1zM225 122h104v1h-104zM83 123h2v1h-2zM107 123h1v1h-1zM129 123h3v1h-3zM141 123h2v1h-2zM150 123h2v1h-2zM172 123h33v1h-33zM206 123h10v1h-10zM221 123h108v1h-108zM124 124h2v1h-2zM128 124h2v1h-2zM131 124h2v1h-2zM136 124h1v1h-1zM138 124h1v1h-1zM141 124h1v1h-1zM143 124h1v2h-1zM148 124h2v2h-2zM160 124h1v2h-1zM167 124h1v1h-1zM170 124h29v1h-29zM203 124h7v1h-7zM213 124h4v1h-4zM225 124h104v1h-104zM0 125h81v4h-81zM124 125h3v1h-3zM137 125h1v1h-1zM140 125h1v1h-1zM152 125h1v1h-1zM166 125h1v1h-1zM168 125h31v1h-31zM202 125h8v1h-8zM211 125h1v1h-1zM213 125h5v1h-5zM226 125h103v1h-103zM118 126h1v2h-1zM121 126h1v1h-1zM124 126h1v2h-1zM127 126h1v2h-1zM131 126h1v1h-1zM139 126h1v1h-1zM141 126h2v1h-2zM163 126h3v1h-3zM168 126h24v1h-24zM195 126h17v2h-17zM214 126h4v2h-4zM221 126h2v1h-2zM227 126h102v1h-102zM93 127h1v1h-1zM109 127h1v1h-1zM133 127h1v1h-1zM135 127h1v1h-1zM141 127h1v1h-1zM147 127h1v1h-1zM161 127h1v2h-1zM167 127h25v1h-25zM226 127h103v1h-103zM91 128h1v1h-1zM106 128h2v1h-2zM132 128h1v1h-1zM134 128h1v1h-1zM140 128h1v1h-1zM148 128h1v1h-1zM151 128h1v1h-1zM158 128h1v1h-1zM163 128h1v1h-1zM167 128h53v1h-53zM222 128h107v1h-107zM0 129h82v3h-82zM120 129h1v1h-1zM128 129h1v1h-1zM133 129h1v1h-1zM141 129h1v1h-1zM156 129h3v1h-3zM165 129h1v1h-1zM167 129h162v1h-162zM124 130h1v1h-1zM128 130h2v1h-2zM131 130h1v3h-1zM139 130h1v1h-1zM156 130h2v1h-2zM160 130h1v1h-1zM165 130h46v1h-46zM213 130h116v1h-116zM100 131h1v1h-1zM116 131h1v1h-1zM118 131h1v1h-1zM122 131h1v1h-1zM125 131h2v1h-2zM129 131h1v1h-1zM134 131h1v1h-1zM145 131h1v1h-1zM153 131h1v1h-1zM161 131h2v1h-2zM165 131h45v1h-45zM213 131h5v1h-5zM219 131h1v1h-1zM221 131h10v2h-10zM233 131h96v8h-96zM0 132h83v3h-83zM117 132h1v1h-1zM124 132h1v1h-1zM126 132h1v1h-1zM128 132h1v1h-1zM137 132h1v1h-1zM146 132h1v1h-1zM151 132h1v1h-1zM160 132h59v2h-59zM123 133h3v1h-3zM222 133h9v1h-9zM122 134h3v1h-3zM150 134h1v1h-1zM161 134h70v2h-70zM0 135h84v3h-84zM122 135h4v1h-4zM131 135h1v1h-1zM139 135h1v1h-1zM110 136h1v1h-1zM115 136h3v1h-3zM121 136h5v1h-5zM128 136h3v1h-3zM138 136h1v1h-1zM159 136h73v1h-73zM114 137h1v2h-1zM116 137h1v1h-1zM119 137h2v1h-2zM124 137h1v1h-1zM128 137h1v1h-1zM145 137h1v1h-1zM154 137h1v1h-1zM157 137h69v2h-69zM228 137h4v1h-4zM0 138h85v3h-85zM118 138h1v1h-1zM140 138h1v2h-1zM153 138h1v3h-1zM155 138h1v1h-1zM228 138h1v1h-1zM119 139h2v1h-2zM123 139h2v1h-2zM126 139h1v1h-1zM130 139h1v1h-1zM132 139h3v1h-3zM136 139h1v3h-1zM138 139h1v1h-1zM156 139h173v2h-173zM97 140h2v1h-2zM118 140h4v1h-4zM125 140h2v1h-2zM132 140h2v2h-2zM139 140h1v2h-1zM0 141h86v2h-86zM87 141h1v1h-1zM97 141h1v1h-1zM117 141h1v1h-1zM119 141h2v1h-2zM126 141h1v1h-1zM129 141h1v1h-1zM143 141h1v1h-1zM154 141h175v1h-175zM111 142h1v1h-1zM125 142h2v1h-2zM129 142h8v1h-8zM140 142h1v1h-1zM142 142h2v1h-2zM149 142h2v1h-2zM154 142h63v1h-63zM221 142h108v4h-108zM0 143h89v1h-89zM126 143h1v1h-1zM128 143h1v1h-1zM132 143h4v2h-4zM140 143h2v1h-2zM149 143h1v1h-1zM153 143h62v1h-62zM0 144h90v1h-90zM139 144h3v2h-3zM147 144h1v1h-1zM152 144h33v1h-33zM187 144h15v2h-15zM203 144h10v1h-10zM0 145h93v1h-93zM120 145h1v1h-1zM131 145h3v1h-3zM145 145h3v1h-3zM149 145h1v1h-1zM151 145h34v2h-34zM205 145h6v1h-6zM0 146h94v4h-94zM130 146h4v1h-4zM137 146h1v1h-1zM139 146h2v1h-2zM142 146h1v1h-1zM146 146h1v1h-1zM148 146h1v1h-1zM187 146h16v1h-16zM205 146h5v1h-5zM220 146h109v3h-109zM103 147h1v1h-1zM130 147h1v1h-1zM133 147h1v1h-1zM135 147h1v1h-1zM144 147h1v1h-1zM150 147h35v1h-35zM187 147h22v1h-22zM105 148h1v1h-1zM129 148h1v1h-1zM132 148h2v1h-2zM138 148h1v1h-1zM143 148h1v2h-1zM149 148h59v1h-59zM213 148h1v1h-1zM109 149h1v1h-1zM124 149h1v1h-1zM131 149h1v1h-1zM133 149h1v1h-1zM137 149h1v1h-1zM145 149h1v1h-1zM148 149h59v2h-59zM220 149h12v1h-12zM235 149h94v1h-94zM0 150h88v2h-88zM92 150h1v1h-1zM100 150h1v3h-1zM121 150h1v1h-1zM123 150h2v1h-2zM126 150h1v1h-1zM135 150h2v1h-2zM138 150h1v1h-1zM141 150h3v1h-3zM219 150h12v1h-12zM238 150h91v3h-91zM117 151h1v1h-1zM122 151h1v1h-1zM124 151h1v2h-1zM130 151h1v1h-1zM133 151h3v1h-3zM140 151h1v1h-1zM142 151h1v1h-1zM148 151h58v1h-58zM218 151h10v1h-10zM0 152h89v3h-89zM119 152h1v1h-1zM136 152h1v2h-1zM141 152h2v1h-2zM147 152h61v3h-61zM215 152h1v1h-1zM219 152h8v1h-8zM129 153h1v1h-1zM141 153h1v1h-1zM144 153h1v1h-1zM214 153h2v1h-2zM220 153h8v3h-8zM239 153h90v6h-90zM132 154h2v1h-2zM135 154h1v1h-1zM0 155h90v3h-90zM139 155h3v1h-3zM146 155h50v1h-50zM198 155h10v2h-10zM115 156h1v1h-1zM132 156h4v1h-4zM139 156h1v1h-1zM146 156h46v2h-46zM194 156h2v1h-2zM221 156h7v1h-7zM114 157h2v1h-2zM128 157h1v1h-1zM133 157h1v1h-1zM143 157h1v1h-1zM194 157h15v1h-15zM221 157h8v1h-8zM0 158h91v4h-91zM114 158h1v2h-1zM131 158h2v1h-2zM145 158h64v1h-64zM222 158h7v1h-7zM234 158h3v1h-3zM107 159h2v1h-2zM127 159h1v1h-1zM138 159h1v1h-1zM142 159h1v1h-1zM146 159h51v1h-51zM198 159h11v1h-11zM223 159h7v1h-7zM234 159h2v1h-2zM240 159h89v5h-89zM106 160h1v1h-1zM108 160h1v1h-1zM114 160h2v1h-2zM145 160h39v1h-39zM188 160h8v2h-8zM198 160h12v1h-12zM224 160h6v1h-6zM233 160h2v1h-2zM127 161h1v1h-1zM144 161h1v1h-1zM147 161h37v1h-37zM199 161h11v1h-11zM225 161h5v1h-5zM233 161h1v1h-1zM0 162h92v3h-92zM105 162h1v1h-1zM128 162h1v1h-1zM143 162h2v1h-2zM148 162h14v1h-14zM166 162h19v1h-19zM188 162h9v2h-9zM200 162h12v2h-12zM225 162h6v1h-6zM113 163h2v1h-2zM123 163h1v1h-1zM127 163h1v1h-1zM136 163h1v1h-1zM141 163h1v1h-1zM150 163h4v1h-4zM155 163h1v1h-1zM157 163h3v2h-3zM166 163h17v1h-17zM184 163h1v2h-1zM219 163h1v2h-1zM222 163h1v1h-1zM226 163h5v1h-5zM104 164h1v1h-1zM113 164h7v1h-7zM124 164h2v1h-2zM128 164h1v1h-1zM133 164h1v2h-1zM136 164h2v1h-2zM143 164h2v1h-2zM151 164h1v1h-1zM164 164h18v1h-18zM188 164h10v1h-10zM202 164h9v1h-9zM225 164h1v1h-1zM227 164h4v1h-4zM241 164h88v6h-88zM0 165h93v4h-93zM114 165h7v2h-7zM124 165h1v1h-1zM126 165h1v1h-1zM129 165h1v1h-1zM131 165h1v1h-1zM153 165h2v3h-2zM156 165h1v1h-1zM164 165h4v1h-4zM169 165h1v1h-1zM171 165h1v1h-1zM175 165h7v2h-7zM188 165h11v1h-11zM203 165h8v1h-8zM227 165h3v1h-3zM130 166h1v1h-1zM146 166h2v1h-2zM164 166h2v1h-2zM185 166h1v1h-1zM188 166h12v1h-12zM205 166h6v1h-6zM225 166h3v1h-3zM112 167h1v2h-1zM115 167h7v1h-7zM123 167h1v1h-1zM126 167h1v2h-1zM149 167h1v1h-1zM151 167h1v1h-1zM165 167h2v1h-2zM169 167h1v1h-1zM176 167h3v1h-3zM180 167h6v1h-6zM187 167h6v1h-6zM195 167h6v1h-6zM207 167h4v1h-4zM221 167h1v1h-1zM224 167h2v1h-2zM235 167h1v1h-1zM115 168h6v1h-6zM129 168h2v2h-2zM145 168h1v1h-1zM152 168h1v1h-1zM154 168h1v1h-1zM161 168h1v1h-1zM163 168h2v1h-2zM168 168h1v1h-1zM176 168h2v1h-2zM179 168h14v1h-14zM195 168h7v1h-7zM209 168h5v1h-5zM219 168h1v1h-1zM224 168h1v1h-1zM230 168h1v1h-1zM0 169h94v4h-94zM105 169h1v1h-1zM114 169h6v1h-6zM124 169h2v1h-2zM153 169h2v1h-2zM161 169h4v1h-4zM174 169h1v1h-1zM182 169h3v1h-3zM187 169h17v1h-17zM211 169h3v2h-3zM219 169h6v2h-6zM103 170h2v1h-2zM115 170h3v2h-3zM120 170h1v1h-1zM123 170h1v1h-1zM150 170h2v1h-2zM153 170h1v1h-1zM163 170h2v1h-2zM172 170h1v1h-1zM182 170h2v1h-2zM187 170h19v1h-19zM234 170h1v1h-1zM242 170h87v5h-87zM121 171h4v2h-4zM140 171h1v2h-1zM147 171h1v1h-1zM150 171h1v1h-1zM159 171h1v1h-1zM164 171h1v1h-1zM168 171h1v1h-1zM170 171h4v1h-4zM187 171h3v1h-3zM192 171h17v1h-17zM213 171h1v1h-1zM219 171h4v1h-4zM100 172h2v1h-2zM148 172h1v1h-1zM158 172h1v1h-1zM167 172h5v1h-5zM173 172h1v1h-1zM192 172h18v1h-18zM214 172h9v1h-9zM0 173h95v1h-95zM98 173h4v1h-4zM103 173h4v1h-4zM117 173h1v1h-1zM120 173h1v1h-1zM122 173h2v1h-2zM136 173h1v1h-1zM140 173h2v1h-2zM143 173h1v1h-1zM154 173h1v1h-1zM168 173h3v1h-3zM172 173h1v1h-1zM191 173h21v1h-21zM215 173h8v1h-8zM225 173h1v1h-1zM0 174h96v1h-96zM97 174h11v1h-11zM121 174h1v2h-1zM164 174h3v1h-3zM168 174h1v1h-1zM171 174h3v1h-3zM175 174h1v2h-1zM177 174h1v2h-1zM188 174h25v1h-25zM214 174h9v1h-9zM0 175h109v1h-109zM111 175h3v1h-3zM139 175h2v1h-2zM149 175h1v1h-1zM164 175h4v1h-4zM169 175h1v1h-1zM171 175h1v1h-1zM183 175h2v1h-2zM186 175h1v1h-1zM188 175h5v1h-5zM198 175h23v1h-23zM224 175h1v1h-1zM232 175h2v1h-2zM243 175h86v5h-86zM0 176h113v2h-113zM119 176h1v1h-1zM144 176h2v1h-2zM153 176h1v1h-1zM164 176h5v1h-5zM172 176h1v1h-1zM174 176h1v1h-1zM183 176h7v1h-7zM191 176h1v1h-1zM199 176h20v1h-20zM223 176h1v1h-1zM233 176h1v1h-1zM147 177h1v1h-1zM155 177h2v1h-2zM163 177h1v1h-1zM165 177h4v1h-4zM172 177h2v1h-2zM179 177h1v1h-1zM182 177h7v1h-7zM195 177h1v1h-1zM199 177h7v2h-7zM209 177h1v1h-1zM211 177h3v1h-3zM215 177h3v1h-3zM224 177h1v1h-1zM228 177h1v1h-1zM0 178h112v1h-112zM118 178h1v2h-1zM139 178h1v1h-1zM142 178h3v1h-3zM153 178h1v1h-1zM156 178h1v1h-1zM158 178h1v1h-1zM164 178h2v1h-2zM167 178h2v1h-2zM174 178h1v1h-1zM179 178h5v1h-5zM185 178h3v1h-3zM207 178h2v1h-2zM212 178h1v1h-1zM215 178h5v1h-5zM222 178h2v1h-2zM233 178h1v1h-1zM0 179h109v1h-109zM135 179h1v3h-1zM145 179h1v1h-1zM149 179h2v1h-2zM152 179h1v1h-1zM163 179h1v1h-1zM165 179h1v1h-1zM167 179h1v1h-1zM169 179h1v1h-1zM178 179h6v1h-6zM185 179h4v1h-4zM194 179h1v2h-1zM202 179h5v1h-5zM209 179h7v1h-7zM0 180h107v1h-107zM110 180h1v1h-1zM113 180h1v1h-1zM131 180h2v1h-2zM140 180h1v1h-1zM147 180h1v1h-1zM150 180h2v2h-2zM153 180h1v1h-1zM155 180h1v1h-1zM165 180h2v1h-2zM179 180h4v1h-4zM185 180h1v1h-1zM189 180h4v1h-4zM203 180h1v1h-1zM205 180h3v1h-3zM209 180h3v1h-3zM214 180h2v1h-2zM224 180h1v1h-1zM244 180h85v6h-85zM0 181h103v1h-103zM111 181h1v2h-1zM119 181h1v2h-1zM132 181h1v1h-1zM142 181h1v1h-1zM145 181h2v1h-2zM148 181h1v1h-1zM164 181h2v1h-2zM167 181h3v1h-3zM177 181h4v1h-4zM182 181h1v1h-1zM184 181h1v1h-1zM189 181h1v1h-1zM192 181h3v1h-3zM202 181h1v1h-1zM207 181h2v1h-2zM210 181h1v1h-1zM213 181h1v1h-1zM0 182h101v1h-101zM109 182h1v1h-1zM130 182h1v1h-1zM133 182h3v1h-3zM138 182h1v1h-1zM148 182h2v1h-2zM151 182h1v1h-1zM163 182h1v1h-1zM167 182h1v1h-1zM170 182h1v1h-1zM174 182h3v1h-3zM178 182h3v1h-3zM188 182h4v1h-4zM201 182h1v1h-1zM203 182h1v1h-1zM208 182h1v2h-1zM211 182h1v1h-1zM215 182h1v2h-1zM0 183h97v5h-97zM107 183h1v1h-1zM110 183h1v1h-1zM124 183h1v1h-1zM127 183h1v1h-1zM132 183h1v1h-1zM140 183h1v1h-1zM143 183h1v1h-1zM148 183h1v1h-1zM154 183h1v1h-1zM158 183h2v1h-2zM168 183h3v1h-3zM173 183h7v1h-7zM183 183h1v1h-1zM188 183h1v1h-1zM192 183h1v1h-1zM194 183h1v1h-1zM200 183h1v2h-1zM202 183h1v1h-1zM213 183h1v1h-1zM109 184h1v1h-1zM130 184h1v1h-1zM133 184h1v1h-1zM135 184h1v1h-1zM139 184h1v1h-1zM158 184h1v1h-1zM161 184h2v1h-2zM166 184h5v1h-5zM172 184h4v1h-4zM178 184h2v1h-2zM182 184h1v1h-1zM190 184h3v1h-3zM214 184h2v1h-2zM223 184h1v1h-1zM118 185h1v3h-1zM132 185h1v1h-1zM134 185h1v1h-1zM164 185h9v1h-9zM175 185h1v1h-1zM181 185h2v1h-2zM186 185h2v1h-2zM189 185h1v1h-1zM194 185h1v1h-1zM205 185h1v1h-1zM207 185h2v1h-2zM210 185h1v1h-1zM214 185h1v1h-1zM216 185h2v1h-2zM224 185h1v3h-1zM104 186h2v1h-2zM130 186h1v1h-1zM165 186h7v1h-7zM176 186h1v1h-1zM179 186h3v1h-3zM187 186h3v1h-3zM193 186h1v3h-1zM197 186h1v1h-1zM200 186h1v1h-1zM208 186h2v1h-2zM211 186h2v1h-2zM215 186h2v1h-2zM245 186h84v4h-84zM108 187h2v1h-2zM113 187h1v1h-1zM129 187h1v1h-1zM149 187h1v1h-1zM165 187h2v2h-2zM179 187h1v1h-1zM181 187h2v1h-2zM184 187h1v1h-1zM186 187h2v1h-2zM195 187h1v1h-1zM201 187h1v2h-1zM204 187h3v1h-3zM209 187h1v1h-1zM214 187h2v1h-2zM220 187h1v1h-1zM0 188h98v4h-98zM107 188h1v1h-1zM161 188h1v1h-1zM168 188h1v1h-1zM170 188h1v1h-1zM173 188h2v1h-2zM178 188h1v1h-1zM180 188h1v2h-1zM182 188h1v1h-1zM186 188h3v1h-3zM195 188h2v1h-2zM199 188h1v2h-1zM203 188h3v1h-3zM212 188h1v1h-1zM218 188h1v1h-1zM127 189h1v1h-1zM173 189h3v1h-3zM182 189h2v1h-2zM186 189h2v1h-2zM192 189h3v1h-3zM196 189h2v1h-2zM202 189h2v1h-2zM205 189h2v1h-2zM208 189h1v1h-1zM214 189h1v1h-1zM219 189h3v1h-3zM223 189h1v1h-1zM243 189h1v1h-1zM137 190h1v1h-1zM157 190h2v1h-2zM163 190h1v1h-1zM165 190h1v1h-1zM171 190h3v1h-3zM178 190h2v1h-2zM181 190h1v1h-1zM185 190h1v1h-1zM187 190h1v2h-1zM191 190h1v1h-1zM193 190h5v1h-5zM201 190h2v1h-2zM207 190h1v1h-1zM217 190h3v1h-3zM222 190h1v1h-1zM246 190h83v4h-83zM106 191h1v1h-1zM135 191h1v1h-1zM149 191h1v1h-1zM164 191h1v1h-1zM172 191h2v1h-2zM190 191h1v1h-1zM192 191h1v1h-1zM194 191h3v1h-3zM199 191h3v1h-3zM203 191h1v1h-1zM205 191h1v1h-1zM208 191h1v2h-1zM210 191h1v1h-1zM216 191h1v1h-1zM218 191h4v1h-4zM0 192h99v4h-99zM141 192h1v2h-1zM143 192h1v1h-1zM164 192h2v2h-2zM167 192h2v1h-2zM171 192h1v3h-1zM175 192h1v1h-1zM177 192h1v1h-1zM191 192h1v2h-1zM195 192h2v1h-2zM198 192h2v1h-2zM203 192h3v1h-3zM214 192h1v1h-1zM216 192h5v1h-5zM119 193h1v1h-1zM123 193h2v1h-2zM146 193h3v1h-3zM152 193h1v1h-1zM159 193h1v1h-1zM169 193h1v1h-1zM174 193h1v1h-1zM176 193h2v1h-2zM179 193h1v1h-1zM199 193h2v1h-2zM203 193h1v1h-1zM207 193h2v1h-2zM214 193h4v1h-4zM220 193h1v2h-1zM122 194h2v2h-2zM140 194h2v1h-2zM145 194h1v1h-1zM162 194h2v1h-2zM184 194h1v1h-1zM187 194h1v2h-1zM189 194h1v1h-1zM194 194h2v2h-2zM202 194h1v2h-1zM204 194h1v2h-1zM206 194h1v1h-1zM209 194h3v1h-3zM214 194h1v1h-1zM216 194h2v1h-2zM222 194h1v1h-1zM224 194h1v1h-1zM228 194h1v1h-1zM233 194h1v1h-1zM247 194h82v4h-82zM139 195h2v1h-2zM155 195h2v1h-2zM161 195h3v1h-3zM168 195h3v1h-3zM176 195h1v1h-1zM185 195h1v1h-1zM190 195h1v1h-1zM213 195h1v1h-1zM217 195h1v1h-1zM221 195h1v1h-1zM228 195h5v1h-5zM0 196h100v5h-100zM121 196h1v1h-1zM123 196h1v1h-1zM155 196h1v2h-1zM161 196h2v1h-2zM168 196h2v1h-2zM174 196h2v1h-2zM181 196h1v1h-1zM183 196h1v1h-1zM186 196h1v1h-1zM193 196h2v1h-2zM208 196h1v1h-1zM210 196h1v1h-1zM222 196h1v1h-1zM226 196h1v1h-1zM228 196h4v1h-4zM234 196h1v1h-1zM245 196h1v1h-1zM150 197h1v1h-1zM167 197h2v1h-2zM173 197h1v1h-1zM180 197h3v1h-3zM189 197h1v2h-1zM193 197h1v2h-1zM195 197h2v1h-2zM206 197h1v1h-1zM220 197h1v1h-1zM222 197h2v1h-2zM225 197h1v1h-1zM228 197h2v1h-2zM154 198h1v1h-1zM161 198h2v1h-2zM166 198h3v1h-3zM177 198h1v1h-1zM181 198h1v1h-1zM183 198h2v1h-2zM195 198h3v1h-3zM202 198h1v1h-1zM219 198h2v1h-2zM222 198h1v1h-1zM224 198h1v1h-1zM226 198h2v1h-2zM248 198h81v4h-81zM151 199h3v1h-3zM157 199h1v1h-1zM165 199h2v1h-2zM171 199h1v1h-1zM178 199h1v1h-1zM180 199h1v2h-1zM186 199h1v1h-1zM188 199h2v1h-2zM191 199h1v1h-1zM193 199h4v1h-4zM206 199h1v1h-1zM210 199h1v1h-1zM226 199h3v1h-3zM240 199h1v1h-1zM118 200h1v1h-1zM151 200h1v1h-1zM160 200h1v1h-1zM164 200h3v1h-3zM175 200h1v1h-1zM182 200h1v1h-1zM190 200h2v1h-2zM193 200h1v1h-1zM195 200h2v1h-2zM199 200h1v1h-1zM207 200h1v1h-1zM210 200h2v1h-2zM217 200h1v1h-1zM222 200h1v2h-1zM224 200h3v1h-3zM231 200h1v1h-1zM0 201h101v4h-101zM151 201h2v1h-2zM157 201h2v1h-2zM163 201h3v1h-3zM175 201h2v2h-2zM178 201h1v1h-1zM180 201h2v1h-2zM183 201h1v2h-1zM191 201h1v2h-1zM194 201h1v1h-1zM196 201h1v1h-1zM205 201h1v1h-1zM210 201h1v1h-1zM224 201h2v1h-2zM229 201h1v1h-1zM239 201h1v1h-1zM156 202h1v2h-1zM158 202h1v1h-1zM167 202h1v1h-1zM178 202h3v1h-3zM194 202h2v1h-2zM198 202h1v2h-1zM204 202h1v1h-1zM206 202h2v1h-2zM211 202h2v1h-2zM215 202h1v1h-1zM217 202h1v1h-1zM224 202h1v1h-1zM238 202h1v1h-1zM249 202h80v4h-80zM118 203h1v1h-1zM161 203h1v1h-1zM163 203h2v1h-2zM175 203h8v1h-8zM188 203h1v1h-1zM190 203h1v1h-1zM193 203h1v1h-1zM195 203h1v1h-1zM205 203h2v1h-2zM208 203h3v1h-3zM212 203h1v1h-1zM216 203h8v1h-8zM227 203h1v2h-1zM237 203h1v1h-1zM117 204h1v1h-1zM141 204h1v1h-1zM143 204h1v1h-1zM155 204h1v1h-1zM157 204h1v1h-1zM162 204h1v1h-1zM173 204h3v1h-3zM178 204h2v1h-2zM181 204h2v1h-2zM191 204h3v1h-3zM196 204h2v1h-2zM201 204h1v1h-1zM205 204h1v2h-1zM208 204h2v1h-2zM212 204h3v2h-3zM216 204h2v1h-2zM223 204h2v1h-2zM236 204h1v1h-1zM0 205h102v4h-102zM116 205h1v1h-1zM156 205h1v1h-1zM165 205h1v1h-1zM170 205h5v1h-5zM178 205h1v1h-1zM180 205h2v1h-2zM187 205h1v1h-1zM192 205h3v1h-3zM198 205h3v1h-3zM207 205h4v2h-4zM225 205h1v1h-1zM228 205h1v2h-1zM237 205h1v1h-1zM147 206h1v1h-1zM149 206h1v1h-1zM151 206h1v2h-1zM154 206h2v1h-2zM159 206h2v1h-2zM162 206h1v3h-1zM166 206h1v1h-1zM169 206h4v1h-4zM175 206h1v1h-1zM177 206h3v1h-3zM195 206h2v1h-2zM199 206h5v1h-5zM212 206h2v1h-2zM223 206h3v1h-3zM230 206h1v1h-1zM235 206h1v1h-1zM250 206h79v4h-79zM113 207h1v1h-1zM154 207h3v1h-3zM159 207h1v1h-1zM169 207h5v1h-5zM175 207h2v1h-2zM178 207h3v1h-3zM194 207h1v1h-1zM196 207h1v1h-1zM199 207h1v1h-1zM201 207h1v1h-1zM207 207h5v1h-5zM222 207h1v1h-1zM227 207h1v1h-1zM233 207h2v1h-2zM153 208h2v1h-2zM167 208h4v1h-4zM172 208h3v1h-3zM185 208h1v1h-1zM192 208h1v1h-1zM199 208h3v1h-3zM208 208h2v2h-2zM211 208h1v1h-1zM221 208h1v1h-1zM232 208h2v1h-2zM239 208h3v1h-3zM0 209h103v4h-103zM146 209h1v1h-1zM149 209h1v1h-1zM166 209h1v1h-1zM168 209h5v1h-5zM194 209h1v1h-1zM198 209h4v1h-4zM206 209h1v1h-1zM219 209h4v1h-4zM225 209h1v1h-1zM227 209h1v1h-1zM232 209h1v1h-1zM240 209h6v1h-6zM109 210h1v1h-1zM138 210h1v1h-1zM146 210h2v1h-2zM152 210h1v1h-1zM165 210h4v1h-4zM170 210h2v1h-2zM178 210h3v1h-3zM198 210h1v1h-1zM202 210h1v1h-1zM205 210h1v1h-1zM207 210h1v1h-1zM209 210h2v2h-2zM213 210h2v1h-2zM218 210h2v1h-2zM228 210h1v1h-1zM231 210h1v1h-1zM236 210h2v1h-2zM240 210h7v1h-7zM251 210h78v3h-78zM165 211h1v1h-1zM169 211h2v1h-2zM175 211h1v1h-1zM177 211h3v1h-3zM199 211h3v1h-3zM206 211h1v1h-1zM213 211h1v2h-1zM218 211h1v1h-1zM222 211h2v1h-2zM225 211h1v1h-1zM230 211h1v1h-1zM232 211h1v1h-1zM234 211h2v1h-2zM239 211h8v1h-8zM130 212h1v1h-1zM163 212h1v1h-1zM168 212h3v1h-3zM174 212h1v1h-1zM177 212h4v1h-4zM183 212h1v1h-1zM191 212h1v1h-1zM196 212h1v1h-1zM198 212h4v1h-4zM207 212h1v1h-1zM211 212h1v1h-1zM216 212h2v1h-2zM223 212h2v1h-2zM226 212h1v1h-1zM229 212h2v2h-2zM237 212h12v1h-12zM0 213h104v4h-104zM138 213h1v1h-1zM147 213h1v1h-1zM162 213h1v1h-1zM168 213h1v1h-1zM170 213h1v1h-1zM173 213h1v1h-1zM176 213h1v1h-1zM178 213h2v1h-2zM182 213h1v1h-1zM194 213h6v1h-6zM202 213h1v1h-1zM206 213h2v1h-2zM210 213h3v2h-3zM215 213h4v1h-4zM221 213h1v1h-1zM225 213h1v3h-1zM232 213h3v1h-3zM236 213h93v2h-93zM152 214h1v1h-1zM161 214h1v1h-1zM167 214h1v2h-1zM169 214h2v1h-2zM172 214h1v1h-1zM175 214h2v1h-2zM180 214h1v1h-1zM183 214h1v1h-1zM189 214h4v1h-4zM194 214h5v1h-5zM205 214h3v1h-3zM216 214h1v1h-1zM220 214h1v1h-1zM223 214h1v2h-1zM231 214h2v1h-2zM234 214h1v1h-1zM170 215h1v1h-1zM174 215h2v1h-2zM190 215h1v2h-1zM193 215h3v1h-3zM206 215h1v1h-1zM214 215h5v1h-5zM221 215h1v1h-1zM228 215h101v2h-101zM109 216h2v1h-2zM145 216h2v1h-2zM166 216h1v2h-1zM174 216h1v1h-1zM180 216h1v3h-1zM183 216h1v1h-1zM185 216h4v1h-4zM193 216h7v1h-7zM202 216h2v2h-2zM205 216h2v1h-2zM209 216h1v1h-1zM212 216h1v1h-1zM214 216h1v1h-1zM216 216h3v1h-3zM220 216h1v1h-1zM0 217h111v1h-111zM171 217h2v1h-2zM185 217h3v1h-3zM194 217h2v1h-2zM197 217h2v1h-2zM205 217h1v1h-1zM208 217h9v1h-9zM219 217h3v1h-3zM229 217h2v1h-2zM233 217h96v1h-96zM0 218h105v3h-105zM106 218h4v1h-4zM159 218h2v1h-2zM171 218h1v1h-1zM173 218h1v1h-1zM182 218h1v1h-1zM184 218h1v1h-1zM189 218h1v1h-1zM192 218h6v1h-6zM199 218h2v1h-2zM202 218h1v1h-1zM206 218h15v1h-15zM227 218h2v1h-2zM231 218h1v1h-1zM234 218h95v2h-95zM140 219h1v1h-1zM143 219h1v2h-1zM153 219h1v1h-1zM158 219h1v1h-1zM171 219h2v1h-2zM175 219h2v1h-2zM181 219h1v1h-1zM188 219h1v1h-1zM190 219h4v1h-4zM195 219h5v1h-5zM201 219h1v1h-1zM204 219h23v1h-23zM230 219h1v1h-1zM232 219h1v1h-1zM162 220h1v1h-1zM170 220h1v1h-1zM177 220h1v1h-1zM183 220h1v1h-1zM189 220h1v2h-1zM191 220h5v1h-5zM200 220h1v1h-1zM202 220h27v1h-27zM231 220h98v1h-98zM0 221h106v5h-106zM142 221h1v1h-1zM165 221h1v1h-1zM168 221h1v2h-1zM185 221h2v1h-2zM191 221h2v1h-2zM195 221h4v1h-4zM200 221h129v2h-129zM129 222h5v1h-5zM154 222h1v1h-1zM160 222h2v1h-2zM170 222h1v1h-1zM174 222h1v1h-1zM176 222h2v1h-2zM185 222h1v1h-1zM187 222h4v1h-4zM196 222h2v2h-2zM129 223h8v1h-8zM142 223h1v1h-1zM159 223h3v1h-3zM173 223h1v1h-1zM176 223h3v1h-3zM188 223h1v2h-1zM192 223h1v1h-1zM194 223h1v1h-1zM199 223h130v1h-130zM129 224h9v1h-9zM155 224h10v1h-10zM168 224h1v1h-1zM170 224h1v1h-1zM173 224h6v1h-6zM183 224h1v1h-1zM190 224h1v1h-1zM192 224h5v1h-5zM198 224h131v1h-131zM130 225h1v1h-1zM135 225h2v1h-2zM154 225h11v1h-11zM169 225h1v1h-1zM173 225h10v1h-10zM186 225h3v1h-3zM191 225h1v1h-1zM195 225h1v1h-1zM197 225h132v3h-132zM0 226h107v4h-107zM144 226h5v1h-5zM153 226h14v1h-14zM168 226h1v1h-1zM172 226h10v1h-10zM184 226h4v1h-4zM141 227h9v1h-9zM153 227h28v1h-28zM185 227h2v1h-2zM188 227h1v1h-1zM192 227h1v1h-1zM141 228h10v1h-10zM153 228h1v1h-1zM156 228h27v1h-27zM184 228h2v1h-2zM188 228h3v1h-3zM195 228h134v1h-134zM140 229h8v1h-8zM149 229h3v1h-3zM156 229h26v1h-26zM183 229h2v1h-2zM187 229h1v2h-1zM189 229h140v1h-140zM0 230h108v4h-108zM150 230h2v1h-2zM157 230h28v1h-28zM192 230h137v2h-137zM160 231h23v1h-23zM185 231h2v1h-2zM188 231h1v1h-1zM129 232h1v1h-1zM154 232h1v1h-1zM156 232h1v1h-1zM160 232h21v1h-21zM186 232h1v1h-1zM188 232h2v1h-2zM191 232h138v2h-138zM145 233h1v1h-1zM151 233h1v2h-1zM153 233h1v1h-1zM160 233h19v1h-19zM182 233h1v1h-1zM186 233h4v1h-4zM0 234h109v4h-109zM153 234h2v1h-2zM160 234h18v1h-18zM187 234h1v1h-1zM189 234h1v1h-1zM193 234h136v2h-136zM149 235h1v1h-1zM159 235h19v1h-19zM181 235h2v1h-2zM185 235h4v1h-4zM160 236h14v1h-14zM183 236h1v1h-1zM185 236h3v1h-3zM192 236h137v1h-137zM152 237h1v1h-1zM160 237h9v1h-9zM172 237h1v1h-1zM182 237h5v1h-5zM189 237h1v1h-1zM193 237h136v1h-136zM0 238h110v2h-110zM163 238h6v1h-6zM171 238h2v1h-2zM183 238h3v1h-3zM194 238h135v1h-135zM162 239h6v2h-6zM169 239h1v1h-1zM177 239h1v1h-1zM181 239h4v1h-4zM186 239h1v1h-1zM193 239h1v1h-1zM195 239h1v3h-1zM197 239h132v1h-132zM0 240h111v2h-111zM158 240h1v1h-1zM170 240h1v1h-1zM172 240h1v1h-1zM180 240h5v1h-5zM198 240h131v1h-131zM149 241h1v1h-1zM155 241h1v1h-1zM159 241h1v1h-1zM162 241h3v1h-3zM171 241h2v1h-2zM179 241h1v2h-1zM181 241h2v1h-2zM197 241h132v1h-132zM0 242h112v1h-112zM157 242h1v1h-1zM160 242h4v1h-4zM169 242h1v1h-1zM171 242h3v1h-3zM181 242h1v1h-1zM196 242h133v2h-133zM0 243h113v1h-113zM155 243h3v1h-3zM161 243h1v1h-1zM171 243h1v1h-1zM181 243h2v1h-2zM190 243h1v1h-1zM192 243h2v1h-2zM0 244h116v1h-116zM149 244h1v1h-1zM154 244h3v1h-3zM160 244h1v1h-1zM168 244h1v1h-1zM175 244h1v1h-1zM177 244h1v1h-1zM179 244h1v1h-1zM191 244h2v1h-2zM194 244h135v2h-135zM0 245h118v1h-118zM150 245h1v1h-1zM153 245h1v1h-1zM155 245h1v1h-1zM159 245h1v1h-1zM176 245h1v1h-1zM179 245h2v1h-2zM192 245h1v1h-1zM0 246h121v1h-121zM143 246h2v1h-2zM148 246h1v1h-1zM152 246h2v2h-2zM156 246h1v1h-1zM161 246h1v1h-1zM176 246h3v1h-3zM181 246h1v1h-1zM188 246h3v1h-3zM192 246h137v1h-137zM0 247h123v1h-123zM144 247h1v1h-1zM162 247h2v1h-2zM174 247h1v1h-1zM176 247h4v1h-4zM190 247h139v1h-139zM0 248h125v1h-125zM140 248h1v1h-1zM155 248h1v1h-1zM158 248h2v1h-2zM162 248h4v1h-4zM174 248h3v2h-3zM180 248h3v1h-3zM189 248h140v3h-140zM0 249h127v1h-127zM139 249h2v1h-2zM158 249h1v1h-1zM161 249h3v1h-3zM169 249h1v1h-1zM180 249h2v1h-2zM0 250h128v1h-128zM141 250h1v1h-1zM160 250h3v1h-3zM166 250h9v1h-9zM177 250h5v1h-5zM187 250h1v1h-1zM0 251h130v1h-130zM152 251h1v1h-1zM160 251h2v1h-2zM163 251h17v1h-17zM188 251h141v1h-141zM0 252h132v1h-132zM134 252h1v1h-1zM144 252h1v1h-1zM162 252h18v1h-18zM185 252h1v1h-1zM187 252h1v1h-1zM189 252h140v2h-140zM0 253h134v1h-134zM156 253h1v1h-1zM161 253h19v1h-19zM183 253h1v1h-1zM185 253h2v1h-2zM0 254h136v1h-136zM161 254h18v1h-18zM182 254h4v1h-4zM188 254h141v1h-141zM0 255h139v1h-139zM155 255h1v1h-1zM159 255h1v2h-1zM161 255h168v3h-168zM0 256h138v1h-138zM156 256h2v1h-2zM0 257h140v1h-140zM154 257h1v1h-1zM0 258h142v1h-142zM158 258h1v1h-1zM160 258h169v2h-169zM0 259h143v1h-143zM0 260h145v1h-145zM150 260h1v1h-1zM162 260h167v3h-167zM0 261h147v1h-147zM149 261h2v1h-2zM0 262h148v1h-148zM0 263h150v1h-150zM163 263h166v2h-166zM0 264h153v1h-153zM0 265h155v1h-155zM164 265h165v2h-165zM0 266h157v1h-157zM0 267h159v1h-159zM163 267h166v1h-166zM0 268h161v1h-161zM162 268h1v1h-1zM164 268h165v1h-165zM0 269h329v25h-329zM0 294h229v1h-229zM233 294h96v5h-96zM0 295h227v2h-227zM0 297h192v3h-192zM198 297h33v1h-33zM199 298h26v2h-26zM227 298h4v1h-4zM227 299h1v1h-1zM230 299h1v1h-1zM235 299h94v2h-94zM0 300h194v1h-194zM196 300h27v2h-27zM225 300h3v1h-3zM230 300h3v1h-3zM0 301h190v2h-190zM192 301h2v1h-2zM225 301h8v1h-8zM236 301h93v1h-93zM192 302h4v1h-4zM199 302h23v2h-23zM225 302h5v1h-5zM232 302h2v2h-2zM238 302h11v1h-11zM255 302h13v1h-13zM269 302h60v1h-60zM0 303h196v1h-196zM227 303h3v1h-3zM242 303h7v2h-7zM255 303h8v1h-8zM273 303h56v2h-56zM0 304h223v1h-223zM227 304h11v1h-11zM255 304h2v1h-2zM262 304h1v1h-1zM0 305h329v1h-329z" fill="#808080" shape-rendering="crispEdges"/>
<rect x="371" y="210" width="4" height="2" fill="#bd0026" shape-rendering="crispEdges"/>
<rect x="387" y="158" width="2" height="2" fill="#f03b20" shape-rendering="crispEdges"/>
<rect x="399" y="164" width="2" height="2" fill="#f03b20" shape-rendering="crispEdges"/>
<rect x="391" y="172" width="2" height="2" fill="#f03b20" shape-rendering="crispEdges"/>
<rect x="421" y="220" width="2" height="2" fill="#e31a1c" shape-rendering="crispEdges"/>
<rect x="409" y="240" width="2" height="2" fill="#e31a1c" shape-rendering="crispEdges"/>
<rect x="327" y="258" width="2" height="2" fill="#f03b20" shape-rendering="crispEdges"/>
<rect x="133" y="64" width="2" height="2" fill="#fc8d3c" shape-rendering="crispEdges"/>
<rect x="153" y="66" width="4" height="2" fill="#fd9f45" shape-rendering="crispEdges"/>
<rect x="505" y="612" width="2" height="2" fill="#fd9f45" shape-rendering="crispEdges"/>
<rect x="519" y="632" width="2" height="2" fill="#fdb24c" shape-rendering="crispEdges"/>
<rect x="557" y="626" width="2" height="2" fill="#fd9f45" shape-rendering="crispEdges"/>
<rect x="369" y="564" width="4" height="4" fill="#fec45f" shape-rendering="crispEdges"/>
<rect x="515" y="576" width="2" height="2" fill="#fd9f45" shape-rendering="crispEdges"/>
<rect x="555" y="596" width="2" height="2" fill="#fd9f45" shape-rendering="crispEdges"/>
<rect x="557" y="618" width="2" height="2" fill="#fd9f45" shape-rendering="crispEdges"/>
<rect x="433" y="506" width="4" height="2" fill="#fdae50" shape-rendering="crispEdges"/>
<rect x="465" y="480" width="4" height="4" fill="#fdb556" shape-rendering="crispEdges"/>
<rect x="515" y="460" width="4" height="2" fill="#fdae50" shape-rendering="crispEdges"/>
<rect x="523" y="464" width="2" height="4" fill="#fdae50" shape-rendering="crispEdges"/>
<polygon points="31,426 37,431 47,435 57,437 64,434 72,430 82,426 100,425 117,425 120,427 107,430 103,433 112,437 122,442 132,447 140,454 141,464 150,466 160,472 170,477 180,485 187,497 205,512 215,519 275,520 285,525 300,535 315,547 332,560 336,572 342,595 352,605 355,622 345,630 340,638 31,638" fill="#cccccc"/>
<polygon points="69,420 72,416 76,416.5 78,419 81,420 80,424 75,425 72,423" fill="#cccccc"/>
<polygon points="47.5,420.5 52,420 52.5,421.5 48,422" fill="#cccccc"/>
<polygon points="139,414 144,412.5 145.5,413.5 141,416" fill="#cccccc"/>
<polygon points="125,425 136,423 137,437 122,438 127,432" fill="#cccccc"/>
<polygon points="32,271.75 43.75,271.25 45.5,273.75 43.75,277.5 37.5,279.5 32,281.25" fill="#cccccc"/>
<polygon points="46,276 51,276 51,277.5 46,277.5" fill="#cccccc"/>
<polygon points="56,272 65,272 65,273.5 56,273.5" fill="#cccccc"/>
<polygon points="66,270 70.5,270 70.5,271.5 66,271.5" fill="#cccccc"/>
<polygon points="68,265.5 71,266 71,267.5 68,267" fill="#cccccc"/>
<polygon points="58,284.5 65,284 65,286 58,286.5" fill="#cccccc"/>
<polygon points="93,275 96,275.5 96,279.5 93,279" fill="#cccccc"/>
<polygon points="98.5,280 100,280 100,281.5 98.5,281.5" fill="#cccccc"/>
<polygon points="99.5,292 101.5,292 106,296 106,297.5 103,297" fill="#cccccc"/>
<polygon points="96,289.5 97.5,289.5 97.5,291 96,291" fill="#cccccc"/>
<polygon points="118,285.5 120,285.5 122,289 121,290.5 119,289" fill="#cccccc"/>
<polygon points="111,303.75 114,303.75 114,305.5 111,305.5" fill="#cccccc"/>
<polygon points="118,297 122,296 123,298.5 119,299.5" fill="#cccccc"/>
<polygon points="120,312 125,310 127,313 132.5,314 132,316.5 126,316.5 124,320 120.5,320" fill="#cccccc"/>
<polygon points="129.5,320.5 132,320.5 132,322.5 129.5,322.5" fill="#cccccc"/>
<polygon points="126,327.5 130,328 132,333 131,336 128,335" fill="#cccccc"/>
<polygon points="132,342 135,342 140,347 140,352 136,351 133,347" fill="#cccccc"/>
<polygon points="134,357 138,357 139,362 137,365.5 134.5,364" fill="#cccccc"/>
<polygon points="130,376 133.5,372.5 134,377.5 131,377.5" fill="#cccccc"/>
<polygon points="126.5,390 129.5,385 130,386 127.5,391" fill="#cccccc"/>
<polygon points="120,398 122,395 124,395 123.5,400 120.5,401" fill="#cccccc"/>
<polygon points="163,373.5 166,373 168,376 167,379 164.5,378" fill="#cccccc"/>
<g fill="none" stroke-width="1" stroke-linejoin="round">
<g stroke="#6ea5dc" stroke-width="0.9">
<polyline points="32,486 40,484 46,480.5 51,482.5 57.5,485 65,484 66,480 75,479 82.5,476 95,472.5 102.5,470.5 110,467.5 117.5,466 125,464 134,460"/>
<polyline points="121,447.5 117.5,457.5 110,465 102.5,470.5"/>
<polyline points="110,440 109,451 114,456 115,461 110,465.5"/>
<polyline points="102.5,471 96,477.5 96,487.5 100,491 97.5,500 96,510 100,517.5 99,530 107.5,536 109,544 117.5,545 122.5,541 130,545 135,540 140,542.5"/>
<polyline points="97.5,500 89,502.5 82.5,512.5 77.5,524 86,536 92.5,545 96,555 97.5,562.5"/>
<polyline points="51,489 55,497.5 61,505 65,515 70,525 74,536 71,541 76,544.5"/>
<polyline points="112.5,476 111,485 117.5,490 122.5,495 125,505 132.5,502.5"/>
<polyline points="144,510 142.5,520 152.5,526 155,522.5 150,517.5 147.5,511 162.5,522.5 172.5,517.5 180,520"/>
<polyline points="150,499 160,500 170,502.5 180,507.5"/>
<polyline points="32,539 40,537.5 50,539 57.5,546 62.5,550"/>
<polyline points="32,586 37.5,577.5 47.5,575 55,584 62.5,592.5 72.5,596 77.5,599"/>
<polyline points="81,590 80,575 85,564 95,566 105,575 120,572.5 135,570 144,570 145,580 140,590 137.5,600"/>
<polyline points="144,575 150,570 159,567.5"/>
<polyline points="107.5,600 106,610 110,617.5 117.5,625 121,632.5 119,637"/>
<polyline points="135,600 130,610 127.5,619 117.5,625"/>
<polyline points="166,605 165,612.5 155,621 147.5,624 140,614 136,619 127.5,619"/>
<polyline points="180,510 184,517.5 181,530 185,545 184,555 190,570 192.5,585 189,600 185,600 180,607.5"/>
<polyline points="205,515 201,525 195,535 191,550 195,562.5 194,575"/>
<polyline points="251,541 257.5,540 260,544 256,550 250,550 249,546 251,541"/>
<polyline points="253,543 256,543 255,548 252,548 253,543"/>
<polyline points="311,590 315,605 320,617.5 325,624 335,620 345,616 355,612.5"/>
<polyline points="205,607.5 212.5,615 217.5,625 217.5,637"/>
<polyline points="249,590 255,600 262.5,612.5 270,622.5 275,637"/>
<polyline points="247.5,610 255,620 262.5,637"/>
<polyline points="98,483 100,487 97,489 99,492"/>
</g><g stroke="#8a8a8a" stroke-width="0.9">
<polyline points="32,440.5 42,440.5 43.5,443"/>
<polyline points="42.5,438.75 45,446 51,450 60,461 54,465 52.5,472.5 46,480 32,486"/>
<polyline points="66,435 75,437.5 77.5,445 76,454 85,459 92.5,461 96,467.5 102.5,470"/>
<polyline points="75,437.5 86,432.5 102.5,437.5 107.5,435"/>
<polyline points="32,486 40,484 46,480.5 51,482.5 57.5,485 65,484 66,480 75,479 82.5,476 95,472.5 102.5,470.5"/>
<polyline points="102.5,471 117.5,474 125,475 130,481 139,480 141,482.5 150,481"/>
<polyline points="32,520 37.5,517.5 42.5,516 45,524 52.5,525 54,530 51,535 56,542.5 62.5,550 61,554"/>
<polyline points="145,496 155,495 165,496 172.5,494 172.5,500 180,502.5"/>
<polyline points="156,539 180,539"/>
<polyline points="97.5,604 102.5,612.5 106,621 107,637"/>
<polyline points="155,637 157.5,634.5 180,634.5"/>
<polyline points="180,500 186,502.5 187.5,512.5 185,520 182.5,530 181,540 185,547.5 187.5,557.5"/>
<polyline points="192.5,504 191,515 195,522.5 192.5,532.5 190,545 194,557.5"/>
<polyline points="205,515 200,522.5 197.5,530"/>
<polyline points="226,522.5 229,535 230,542.5 217.5,550 215,560 220,564 231,565 230,572.5 234,585 235,592.5"/>
<polyline points="240,536 247.5,530 251,527.5 262.5,529 260,540 262.5,550 255,560 247.5,565 244,572.5 231,572.5"/>
<polyline points="240,536 241,547.5 232.5,555 231,565"/>
<polyline points="249,520 250,527.5 255,530 260,529 261,520"/>
<polyline points="282.5,527.5 286,540 290,560 294,575 290,590 289,595"/>
<polyline points="260,594 262.5,602.5 275,607.5 285,612.5 290,625 295,637"/>
<polyline points="109,440 109,451 114,456 115,461"/>
</g><g stroke="#222" stroke-width="1">
<polyline points="158.75,472.5 150,480 141.25,486.25 142.5,492.5 145,496.25 150,498.75 143.75,502 138.75,502.5 132.5,505 131.75,511.25 132.5,515 128.75,520 136.25,528.75 142.5,535 145,540 140,545 136.25,547.5 130,549.5 122.5,552.5 115,555 107.5,556.25 103.75,561.25 100,566.25 95,563.75 88.75,560 82.5,559.5 75,560 67.5,557 61.25,553.75"/>
<polyline points="61.25,553.75 67.5,560 72.5,567.5 72.5,575 73.75,582.5 77.5,590 87.5,591.25 87.5,595 77.5,600 75,606 67.5,611 53.75,615 45,625 43.75,621 32,625"/>
<polyline points="142.5,536 147.5,535 151.25,533.75 156.25,538.75 153.75,547.5 162.5,552.5 165,560 158.75,567.5 157.5,575 156.25,582.5 161.25,592.5 162,600 170,610 176,614 180,613.75 190,607.5 205,603.75 212.5,598.75 223.75,599.5 235,601.25 237.5,593.75 233.75,590 240,588.75 247.5,590 255,586.25 260,588.75 262.5,592.5 272.5,596.25 280,592.5 288.75,592.5 296.25,595 302.5,588.75 307.5,577.5 315,567.5 322.5,557.5"/>
<polyline points="222,599.5 217.5,590 212.5,580 210,572.5 202.5,571 198.75,565 193.75,556 195,550 197.5,541 205,537.5 211,535 210,530"/>
<polyline points="276,522.5 273.75,530 267.5,536 266,544 270,552.5 275,562.5 275,570 273.75,575 270,582.5 267.5,586 263.75,590 260,589"/>
</g></g>
<rect x="357" y="626" width="2" height="4" fill="#800026" shape-rendering="crispEdges"/>
<rect x="349" y="624" width="2" height="2" fill="#fed976" shape-rendering="crispEdges"/>
<rect x="351" y="629" width="2" height="2" fill="#800026" shape-rendering="crispEdges"/>
<rect x="125" y="310" width="2" height="2" fill="#fee38c" shape-rendering="crispEdges"/>
<rect x="135" y="358" width="2" height="2" fill="#fee38c" shape-rendering="crispEdges"/>
</g>
<g shape-rendering="crispEdges" fill="#000">
<rect x="31" y="25" width="658" height="1"/>
<rect x="31" y="637" width="658" height="1"/>
<rect x="31" y="25" width="1" height="613"/>
<rect x="688" y="25" width="1" height="613"/>
<rect x="28" y="618" width="3" height="1"/>
<rect x="28" y="598" width="3" height="1"/>
<rect x="28" y="578" width="3" height="1"/>
<rect x="28" y="558" width="3" height="1"/>
<rect x="25" y="538" width="6" height="1"/>
<rect x="28" y="518" width="3" height="1"/>
<rect x="28" y="498" width="3" height="1"/>
<rect x="28" y="478" width="3" height="1"/>
<rect x="28" y="458" width="3" height="1"/>
<rect x="25" y="439" width="6" height="1"/>
<rect x="28" y="419" width="3" height="1"/>
<rect x="28" y="399" width="3" height="1"/>
<rect x="28" y="379" width="3" height="1"/>
<rect x="28" y="359" width="3" height="1"/>
<rect x="25" y="339" width="6" height="1"/>
<rect x="28" y="319" width="3" height="1"/>
<rect x="28" y="299" width="3" height="1"/>
<rect x="28" y="279" width="3" height="1"/>
<rect x="28" y="259" width="3" height="1"/>
<rect x="25" y="239" width="6" height="1"/>
<rect x="28" y="219" width="3" height="1"/>
<rect x="28" y="199" width="3" height="1"/>
<rect x="28" y="179" width="3" height="1"/>
<rect x="28" y="159" width="3" height="1"/>
<rect x="25" y="140" width="6" height="1"/>
<rect x="28" y="120" width="3" height="1"/>
<rect x="28" y="100" width="3" height="1"/>
<rect x="28" y="80" width="3" height="1"/>
<rect x="28" y="60" width="3" height="1"/>
<rect x="25" y="40" width="6" height="1"/>
<rect x="36" y="638" width="1" height="3"/>
<rect x="56" y="638" width="1" height="6"/>
<rect x="76" y="638" width="1" height="3"/>
<rect x="96" y="638" width="1" height="3"/>
<rect x="116" y="638" width="1" height="3"/>
<rect x="136" y="638" width="1" height="3"/>
<rect x="156" y="638" width="1" height="6"/>
<rect x="175" y="638" width="1" height="3"/>
<rect x="195" y="638" width="1" height="3"/>
<rect x="215" y="638" width="1" height="3"/>
<rect x="235" y="638" width="1" height="3"/>
<rect x="255" y="638" width="1" height="6"/>
<rect x="275" y="638" width="1" height="3"/>
<rect x="295" y="638" width="1" height="3"/>
<rect x="315" y="638" width="1" height="3"/>
<rect x="335" y="638" width="1" height="3"/>
<rect x="355" y="638" width="1" height="6"/>
<rect x="374" y="638" width="1" height="3"/>
<rect x="394" y="638" width="1" height="3"/>
<rect x="414" y="638" width="1" height="3"/>
<rect x="434" y="638" width="1" height="3"/>
<rect x="454" y="638" width="1" height="6"/>
<rect x="474" y="638" width="1" height="3"/>
<rect x="494" y="638" width="1" height="3"/>
<rect x="514" y="638" width="1" height="3"/>
<rect x="534" y="638" width="1" height="3"/>
<rect x="554" y="638" width="1" height="6"/>
<rect x="573" y="638" width="1" height="3"/>
<rect x="593" y="638" width="1" height="3"/>
<rect x="613" y="638" width="1" height="3"/>
<rect x="633" y="638" width="1" height="3"/>
<rect x="653" y="638" width="1" height="6"/>
<rect x="673" y="638" width="1" height="3"/>
</g>
<g font-family="'Liberation Sans', sans-serif" font-size="12.6" fill="#000" opacity="0.999">
<text transform="translate(23.2 50.1) rotate(-90)" textLength="20.3" lengthAdjust="spacingAndGlyphs">30°</text>
<text transform="translate(23.2 150.2) rotate(-90)" textLength="20.3" lengthAdjust="spacingAndGlyphs">25°</text>
<text transform="translate(23.2 250) rotate(-90)" textLength="20.3" lengthAdjust="spacingAndGlyphs">20°</text>
<text transform="translate(23.2 345.7) rotate(-90)" textLength="20.3" lengthAdjust="spacingAndGlyphs">15°</text>
<text transform="translate(23.2 445.7) rotate(-90)" textLength="20.3" lengthAdjust="spacingAndGlyphs">10°</text>
<text transform="translate(23.2 544.5) rotate(-90)" textLength="13.6" lengthAdjust="spacingAndGlyphs">5°</text>
<text x="44.4" y="657.4" textLength="26.4" lengthAdjust="spacingAndGlyphs">-65°</text>
<text x="144.4" y="657.4" textLength="26.4" lengthAdjust="spacingAndGlyphs">-60°</text>
<text x="243.4" y="657.4" textLength="26.4" lengthAdjust="spacingAndGlyphs">-55°</text>
<text x="343.4" y="657.4" textLength="26.4" lengthAdjust="spacingAndGlyphs">-50°</text>
<text x="442.4" y="657.4" textLength="26.4" lengthAdjust="spacingAndGlyphs">-45°</text>
<text x="542.4" y="657.4" textLength="26.4" lengthAdjust="spacingAndGlyphs">-40°</text>
<text x="641.4" y="657.4" textLength="26.4" lengthAdjust="spacingAndGlyphs">-35°</text>
</g>
<g shape-rendering="crispEdges">
<rect x="0.5" y="668.5" width="719" height="124" fill="#ffffcc" stroke="#000" stroke-width="1"/>
<rect x="48" y="685" width="16" height="18" fill="#ffffcc"/>
<rect x="64" y="685" width="16" height="18" fill="#fffbc3"/>
<rect x="80" y="685" width="16" height="18" fill="#fff8ba"/>
<rect x="96" y="685" width="16" height="18" fill="#fff4b2"/>
<rect x="112" y="685" width="16" height="18" fill="#fff1a9"/>
<rect x="128" y="685" width="16" height="18" fill="#ffeda0"/>
<rect x="144" y="685" width="16" height="18" fill="#ffe998"/>
<rect x="160" y="685" width="16" height="18" fill="#ffe58f"/>
<rect x="176" y="685" width="16" height="18" fill="#fee187"/>
<rect x="192" y="685" width="16" height="18" fill="#fedd7e"/>
<rect x="208" y="685" width="16" height="18" fill="#fed976"/>
<rect x="224" y="685" width="16" height="18" fill="#fed16e"/>
<rect x="240" y="685" width="16" height="18" fill="#fec965"/>
<rect x="256" y="685" width="16" height="18" fill="#fec25d"/>
<rect x="272" y="685" width="16" height="18" fill="#feba54"/>
<rect x="288" y="685" width="16" height="18" fill="#feb24c"/>
<rect x="304" y="685" width="16" height="18" fill="#feab49"/>
<rect x="320" y="685" width="16" height="18" fill="#fea346"/>
<rect x="336" y="685" width="16" height="18" fill="#fd9c42"/>
<rect x="352" y="685" width="16" height="18" fill="#fd943f"/>
<rect x="368" y="685" width="16" height="18" fill="#fd8d3c"/>
<rect x="384" y="685" width="16" height="18" fill="#fd8038"/>
<rect x="400" y="685" width="16" height="18" fill="#fd7435"/>
<rect x="416" y="685" width="16" height="18" fill="#fc6731"/>
<rect x="432" y="685" width="16" height="18" fill="#fc5b2e"/>
<rect x="448" y="685" width="16" height="18" fill="#fc4e2a"/>
<rect x="464" y="685" width="16" height="18" fill="#f74427"/>
<rect x="480" y="685" width="16" height="18" fill="#f23924"/>
<rect x="496" y="685" width="16" height="18" fill="#ed2f22"/>
<rect x="512" y="685" width="16" height="18" fill="#e8241f"/>
<rect x="528" y="685" width="16" height="18" fill="#e31a1c"/>
<rect x="544" y="685" width="16" height="18" fill="#db151e"/>
<rect x="560" y="685" width="16" height="18" fill="#d41020"/>
<rect x="576" y="685" width="16" height="18" fill="#cc0a22"/>
<rect x="592" y="685" width="16" height="18" fill="#c50524"/>
<rect x="608" y="685" width="16" height="18" fill="#bd0026"/>
<rect x="624" y="685" width="16" height="18" fill="#b10026"/>
<rect x="640" y="685" width="16" height="18" fill="#a50026"/>
<rect x="656" y="685" width="16" height="18" fill="#980026"/>
<rect x="672" y="685" width="16" height="18" fill="#8c0026"/>
<g fill="#000">
<rect x="48" y="703" width="1" height="4"/>
<rect x="64" y="703" width="1" height="2"/>
<rect x="80" y="703" width="1" height="2"/>
<rect x="96" y="703" width="1" height="2"/>
<rect x="112" y="703" width="1" height="4"/>
<rect x="128" y="703" width="1" height="2"/>
<rect x="144" y="703" width="1" height="2"/>
<rect x="160" y="703" width="1" height="2"/>
<rect x="176" y="703" width="1" height="4"/>
<rect x="192" y="703" width="1" height="2"/>
<rect x="208" y="703" width="1" height="2"/>
<rect x="224" y="703" width="1" height="2"/>
<rect x="240" y="703" width="1" height="4"/>
<rect x="256" y="703" width="1" height="2"/>
<rect x="272" y="703" width="1" height="2"/>
<rect x="288" y="703" width="1" height="2"/>
<rect x="304" y="703" width="1" height="4"/>
<rect x="320" y="703" width="1" height="2"/>
<rect x="336" y="703" width="1" height="2"/>
<rect x="352" y="703" width="1" height="2"/>
<rect x="368" y="703" width="1" height="4"/>
<rect x="384" y="703" width="1" height="2"/>
<rect x="400" y="703" width="1" height="2"/>
<rect x="416" y="703" width="1" height="2"/>
<rect x="432" y="703" width="1" height="4"/>
<rect x="448" y="703" width="1" height="2"/>
<rect x="464" y="703" width="1" height="2"/>
<rect x="480" y="703" width="1" height="2"/>
<rect x="496" y="703" width="1" height="4"/>
<rect x="512" y="703" width="1" height="2"/>
<rect x="528" y="703" width="1" height="2"/>
<rect x="544" y="703" width="1" height="2"/>
<rect x="560" y="703" width="1" height="4"/>
<rect x="576" y="703" width="1" height="2"/>
<rect x="592" y="703" width="1" height="2"/>
<rect x="608" y="703" width="1" height="2"/>
<rect x="624" y="703" width="1" height="4"/>
<rect x="640" y="703" width="1" height="2"/>
<rect x="656" y="703" width="1" height="2"/>
<rect x="672" y="703" width="1" height="2"/>
<rect x="688" y="703" width="1" height="4"/>
</g></g>
<g font-family="'Liberation Sans', sans-serif" font-size="12.6" fill="#000" opacity="0.999">
<text x="43.8" y="718" textLength="7" lengthAdjust="spacingAndGlyphs">0</text>
<text x="102" y="718" textLength="18.6" lengthAdjust="spacingAndGlyphs">0.1</text>
<text x="166" y="718" textLength="18.6" lengthAdjust="spacingAndGlyphs">0.2</text>
<text x="230" y="718" textLength="18.6" lengthAdjust="spacingAndGlyphs">0.3</text>
<text x="294" y="718" textLength="18.6" lengthAdjust="spacingAndGlyphs">0.4</text>
<text x="358" y="718" textLength="18.6" lengthAdjust="spacingAndGlyphs">0.5</text>
<text x="422" y="718" textLength="18.6" lengthAdjust="spacingAndGlyphs">0.6</text>
<text x="486" y="718" textLength="18.6" lengthAdjust="spacingAndGlyphs">0.7</text>
<text x="550" y="718" textLength="18.6" lengthAdjust="spacingAndGlyphs">0.8</text>
<text x="614" y="718" textLength="18.6" lengthAdjust="spacingAndGlyphs">0.9</text>
<text x="684.8" y="718" textLength="7" lengthAdjust="spacingAndGlyphs">1</text>
</g>
<g font-family="'Liberation Sans', sans-serif" fill="#000" opacity="0.999">
<text x="48" y="736.6" font-size="11.9" font-weight="bold" textLength="615" lengthAdjust="spacingAndGlyphs">Daily Aerosol Optical Thickness (AOT) at 0.55 micron for both ocean (Average) (Quality flag = 1,</text>
<text x="48" y="747.3" font-size="11.9" font-weight="bold" textLength="464" lengthAdjust="spacingAndGlyphs">2, 3) and land (corrected) (Quality flag = 3a derived from VIIRS on SNPP)</text>
<text x="48" y="758" font-size="10.2" textLength="531.5" lengthAdjust="spacingAndGlyphs">Experimental NRT daily AOT composite from NPP VIIRS created from Unprojected Swath Data.</text>
<text x="48" y="768.6" font-size="10.2" textLength="139" lengthAdjust="spacingAndGlyphs">(2025-10-02T12:00:00Z)</text>
<text x="48" y="779.4" font-size="10.2" textLength="319" lengthAdjust="spacingAndGlyphs">Data courtesy of NOAA/AOML/PHOD/Atlantic OceanWatch</text>
</g>
</svg>
</body></html>
